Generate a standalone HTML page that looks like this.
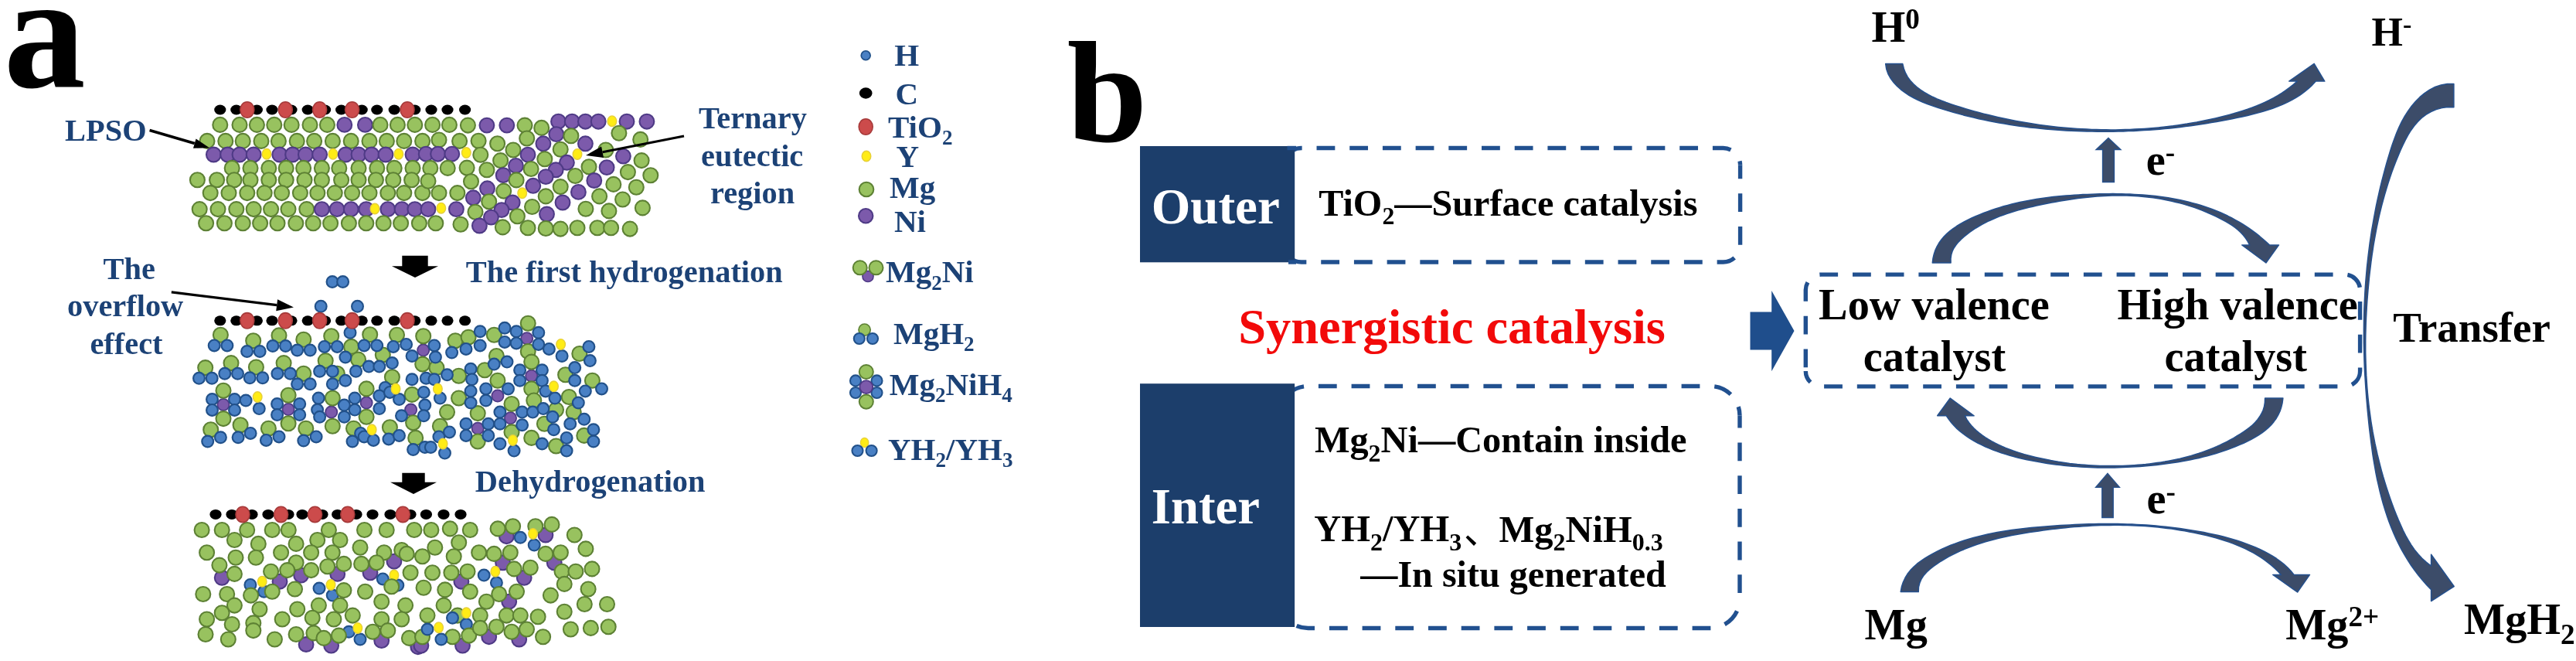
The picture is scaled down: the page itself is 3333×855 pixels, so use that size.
<!DOCTYPE html>
<html><head><meta charset="utf-8"><style>
html,body{margin:0;padding:0;background:#fff;}
svg{display:block;will-change:transform;}
text{font-family:"Liberation Serif", serif;font-weight:bold;}
</style></head><body>
<svg width="3333" height="855" viewBox="0 0 3333 855">
<defs><filter id="sb" x="-2%" y="-5%" width="104%" height="110%"><feGaussianBlur stdDeviation="0.7"/></filter><filter id="tb" x="-2%" y="-2%" width="104%" height="104%"><feGaussianBlur stdDeviation="0.45"/></filter></defs>
<rect width="3333" height="855" fill="#fff"/>
<g filter="url(#sb)">
<circle cx="284.8" cy="161.4" r="9.5" fill="#98c25e" stroke="#5d8134" stroke-width="2.1"/>
<circle cx="310.0" cy="161.4" r="9.5" fill="#98c25e" stroke="#5d8134" stroke-width="2.1"/>
<circle cx="332.4" cy="161.4" r="9.5" fill="#98c25e" stroke="#5d8134" stroke-width="2.1"/>
<circle cx="354.8" cy="161.4" r="9.5" fill="#98c25e" stroke="#5d8134" stroke-width="2.1"/>
<circle cx="377.2" cy="161.4" r="9.5" fill="#98c25e" stroke="#5d8134" stroke-width="2.1"/>
<circle cx="401.0" cy="161.4" r="9.5" fill="#98c25e" stroke="#5d8134" stroke-width="2.1"/>
<circle cx="423.4" cy="161.4" r="9.5" fill="#98c25e" stroke="#5d8134" stroke-width="2.1"/>
<circle cx="445.8" cy="161.4" r="9.4" fill="#7b5aab" stroke="#4f3a86" stroke-width="2.1"/>
<circle cx="472.4" cy="161.4" r="9.4" fill="#7b5aab" stroke="#4f3a86" stroke-width="2.1"/>
<circle cx="492.0" cy="161.4" r="9.5" fill="#98c25e" stroke="#5d8134" stroke-width="2.1"/>
<circle cx="514.4" cy="161.4" r="9.5" fill="#98c25e" stroke="#5d8134" stroke-width="2.1"/>
<circle cx="536.8" cy="161.4" r="9.5" fill="#98c25e" stroke="#5d8134" stroke-width="2.1"/>
<circle cx="268.0" cy="182.4" r="9.5" fill="#98c25e" stroke="#5d8134" stroke-width="2.1"/>
<circle cx="291.8" cy="182.4" r="9.5" fill="#98c25e" stroke="#5d8134" stroke-width="2.1"/>
<circle cx="314.2" cy="182.4" r="9.5" fill="#98c25e" stroke="#5d8134" stroke-width="2.1"/>
<circle cx="338.0" cy="182.4" r="9.5" fill="#98c25e" stroke="#5d8134" stroke-width="2.1"/>
<circle cx="360.4" cy="182.4" r="9.5" fill="#98c25e" stroke="#5d8134" stroke-width="2.1"/>
<circle cx="384.2" cy="182.4" r="9.5" fill="#98c25e" stroke="#5d8134" stroke-width="2.1"/>
<circle cx="406.6" cy="182.4" r="9.5" fill="#98c25e" stroke="#5d8134" stroke-width="2.1"/>
<circle cx="430.4" cy="182.4" r="9.5" fill="#98c25e" stroke="#5d8134" stroke-width="2.1"/>
<circle cx="454.2" cy="182.4" r="9.5" fill="#98c25e" stroke="#5d8134" stroke-width="2.1"/>
<circle cx="478.0" cy="182.4" r="9.5" fill="#98c25e" stroke="#5d8134" stroke-width="2.1"/>
<circle cx="500.4" cy="182.4" r="9.5" fill="#98c25e" stroke="#5d8134" stroke-width="2.1"/>
<circle cx="522.8" cy="182.4" r="9.5" fill="#98c25e" stroke="#5d8134" stroke-width="2.1"/>
<circle cx="546.6" cy="182.4" r="9.5" fill="#98c25e" stroke="#5d8134" stroke-width="2.1"/>
<circle cx="276.4" cy="200.0" r="9.4" fill="#7b5aab" stroke="#4f3a86" stroke-width="2.1"/>
<circle cx="294.6" cy="200.0" r="9.4" fill="#7b5aab" stroke="#4f3a86" stroke-width="2.1"/>
<circle cx="310.0" cy="200.0" r="9.4" fill="#7b5aab" stroke="#4f3a86" stroke-width="2.1"/>
<circle cx="328.2" cy="200.0" r="9.4" fill="#7b5aab" stroke="#4f3a86" stroke-width="2.1"/>
<ellipse cx="345.0" cy="199.2" rx="5.8" ry="6.8" fill="#ffec14" stroke="#e6cf3a" stroke-width="1.4"/>
<circle cx="361.8" cy="200.0" r="9.4" fill="#7b5aab" stroke="#4f3a86" stroke-width="2.1"/>
<circle cx="378.6" cy="200.0" r="9.4" fill="#7b5aab" stroke="#4f3a86" stroke-width="2.1"/>
<circle cx="395.4" cy="200.0" r="9.4" fill="#7b5aab" stroke="#4f3a86" stroke-width="2.1"/>
<circle cx="413.6" cy="200.0" r="9.4" fill="#7b5aab" stroke="#4f3a86" stroke-width="2.1"/>
<ellipse cx="430.9" cy="199.2" rx="5.8" ry="6.8" fill="#ffec14" stroke="#e6cf3a" stroke-width="1.4"/>
<circle cx="447.2" cy="200.0" r="9.4" fill="#7b5aab" stroke="#4f3a86" stroke-width="2.1"/>
<circle cx="464.0" cy="200.0" r="9.4" fill="#7b5aab" stroke="#4f3a86" stroke-width="2.1"/>
<circle cx="480.8" cy="200.0" r="9.4" fill="#7b5aab" stroke="#4f3a86" stroke-width="2.1"/>
<circle cx="499.0" cy="200.0" r="9.4" fill="#7b5aab" stroke="#4f3a86" stroke-width="2.1"/>
<ellipse cx="515.8" cy="199.2" rx="5.8" ry="6.8" fill="#ffec14" stroke="#e6cf3a" stroke-width="1.4"/>
<circle cx="534.0" cy="200.0" r="9.4" fill="#7b5aab" stroke="#4f3a86" stroke-width="2.1"/>
<circle cx="300.2" cy="217.4" r="9.5" fill="#98c25e" stroke="#5d8134" stroke-width="2.1"/>
<circle cx="324.0" cy="217.4" r="9.5" fill="#98c25e" stroke="#5d8134" stroke-width="2.1"/>
<circle cx="347.8" cy="217.4" r="9.5" fill="#98c25e" stroke="#5d8134" stroke-width="2.1"/>
<circle cx="370.2" cy="217.4" r="9.5" fill="#98c25e" stroke="#5d8134" stroke-width="2.1"/>
<circle cx="392.6" cy="217.4" r="9.5" fill="#98c25e" stroke="#5d8134" stroke-width="2.1"/>
<circle cx="416.4" cy="217.4" r="9.5" fill="#98c25e" stroke="#5d8134" stroke-width="2.1"/>
<circle cx="438.8" cy="217.4" r="9.5" fill="#98c25e" stroke="#5d8134" stroke-width="2.1"/>
<circle cx="464.0" cy="217.4" r="9.5" fill="#98c25e" stroke="#5d8134" stroke-width="2.1"/>
<circle cx="487.8" cy="217.4" r="9.5" fill="#98c25e" stroke="#5d8134" stroke-width="2.1"/>
<circle cx="510.2" cy="217.4" r="9.5" fill="#98c25e" stroke="#5d8134" stroke-width="2.1"/>
<circle cx="534.0" cy="217.4" r="9.5" fill="#98c25e" stroke="#5d8134" stroke-width="2.1"/>
<circle cx="255.4" cy="232.8" r="9.5" fill="#98c25e" stroke="#5d8134" stroke-width="2.1"/>
<circle cx="280.6" cy="232.8" r="9.5" fill="#98c25e" stroke="#5d8134" stroke-width="2.1"/>
<circle cx="303.0" cy="232.8" r="9.5" fill="#98c25e" stroke="#5d8134" stroke-width="2.1"/>
<circle cx="324.0" cy="232.8" r="9.5" fill="#98c25e" stroke="#5d8134" stroke-width="2.1"/>
<circle cx="347.8" cy="232.8" r="9.5" fill="#98c25e" stroke="#5d8134" stroke-width="2.1"/>
<circle cx="370.2" cy="232.8" r="9.5" fill="#98c25e" stroke="#5d8134" stroke-width="2.1"/>
<circle cx="394.0" cy="232.8" r="9.5" fill="#98c25e" stroke="#5d8134" stroke-width="2.1"/>
<circle cx="416.4" cy="232.8" r="9.5" fill="#98c25e" stroke="#5d8134" stroke-width="2.1"/>
<circle cx="441.6" cy="232.8" r="9.5" fill="#98c25e" stroke="#5d8134" stroke-width="2.1"/>
<circle cx="464.0" cy="232.8" r="9.5" fill="#98c25e" stroke="#5d8134" stroke-width="2.1"/>
<circle cx="486.4" cy="232.8" r="9.5" fill="#98c25e" stroke="#5d8134" stroke-width="2.1"/>
<circle cx="508.8" cy="232.8" r="9.5" fill="#98c25e" stroke="#5d8134" stroke-width="2.1"/>
<circle cx="532.6" cy="232.8" r="9.5" fill="#98c25e" stroke="#5d8134" stroke-width="2.1"/>
<circle cx="272.2" cy="249.6" r="9.5" fill="#98c25e" stroke="#5d8134" stroke-width="2.1"/>
<circle cx="296.0" cy="249.6" r="9.5" fill="#98c25e" stroke="#5d8134" stroke-width="2.1"/>
<circle cx="319.8" cy="249.6" r="9.5" fill="#98c25e" stroke="#5d8134" stroke-width="2.1"/>
<circle cx="342.2" cy="249.6" r="9.5" fill="#98c25e" stroke="#5d8134" stroke-width="2.1"/>
<circle cx="364.6" cy="249.6" r="9.5" fill="#98c25e" stroke="#5d8134" stroke-width="2.1"/>
<circle cx="388.4" cy="249.6" r="9.5" fill="#98c25e" stroke="#5d8134" stroke-width="2.1"/>
<circle cx="410.8" cy="249.6" r="9.5" fill="#98c25e" stroke="#5d8134" stroke-width="2.1"/>
<circle cx="433.2" cy="249.6" r="9.5" fill="#98c25e" stroke="#5d8134" stroke-width="2.1"/>
<circle cx="455.6" cy="249.6" r="9.5" fill="#98c25e" stroke="#5d8134" stroke-width="2.1"/>
<circle cx="478.0" cy="249.6" r="9.5" fill="#98c25e" stroke="#5d8134" stroke-width="2.1"/>
<circle cx="501.8" cy="249.6" r="9.5" fill="#98c25e" stroke="#5d8134" stroke-width="2.1"/>
<circle cx="522.8" cy="249.6" r="9.5" fill="#98c25e" stroke="#5d8134" stroke-width="2.1"/>
<circle cx="546.6" cy="249.6" r="9.5" fill="#98c25e" stroke="#5d8134" stroke-width="2.1"/>
<circle cx="258.2" cy="270.6" r="9.5" fill="#98c25e" stroke="#5d8134" stroke-width="2.1"/>
<circle cx="282.0" cy="270.6" r="9.5" fill="#98c25e" stroke="#5d8134" stroke-width="2.1"/>
<circle cx="305.8" cy="270.6" r="9.5" fill="#98c25e" stroke="#5d8134" stroke-width="2.1"/>
<circle cx="328.2" cy="270.6" r="9.5" fill="#98c25e" stroke="#5d8134" stroke-width="2.1"/>
<circle cx="350.6" cy="270.6" r="9.5" fill="#98c25e" stroke="#5d8134" stroke-width="2.1"/>
<circle cx="373.0" cy="270.6" r="9.5" fill="#98c25e" stroke="#5d8134" stroke-width="2.1"/>
<circle cx="396.8" cy="270.6" r="9.5" fill="#98c25e" stroke="#5d8134" stroke-width="2.1"/>
<circle cx="416.4" cy="270.6" r="9.4" fill="#7b5aab" stroke="#4f3a86" stroke-width="2.1"/>
<circle cx="436.0" cy="270.6" r="9.4" fill="#7b5aab" stroke="#4f3a86" stroke-width="2.1"/>
<circle cx="454.2" cy="270.6" r="9.4" fill="#7b5aab" stroke="#4f3a86" stroke-width="2.1"/>
<circle cx="473.8" cy="270.6" r="9.4" fill="#7b5aab" stroke="#4f3a86" stroke-width="2.1"/>
<ellipse cx="485.0" cy="270.0" rx="5.8" ry="6.8" fill="#ffec14" stroke="#e6cf3a" stroke-width="1.4"/>
<circle cx="501.8" cy="270.6" r="9.4" fill="#7b5aab" stroke="#4f3a86" stroke-width="2.1"/>
<circle cx="520.0" cy="270.6" r="9.4" fill="#7b5aab" stroke="#4f3a86" stroke-width="2.1"/>
<circle cx="536.8" cy="270.6" r="9.4" fill="#7b5aab" stroke="#4f3a86" stroke-width="2.1"/>
<circle cx="266.6" cy="288.8" r="9.5" fill="#98c25e" stroke="#5d8134" stroke-width="2.1"/>
<circle cx="290.4" cy="288.8" r="9.5" fill="#98c25e" stroke="#5d8134" stroke-width="2.1"/>
<circle cx="314.2" cy="288.8" r="9.5" fill="#98c25e" stroke="#5d8134" stroke-width="2.1"/>
<circle cx="336.6" cy="288.8" r="9.5" fill="#98c25e" stroke="#5d8134" stroke-width="2.1"/>
<circle cx="359.0" cy="288.8" r="9.5" fill="#98c25e" stroke="#5d8134" stroke-width="2.1"/>
<circle cx="382.8" cy="288.8" r="9.5" fill="#98c25e" stroke="#5d8134" stroke-width="2.1"/>
<circle cx="405.2" cy="288.8" r="9.5" fill="#98c25e" stroke="#5d8134" stroke-width="2.1"/>
<circle cx="427.6" cy="288.8" r="9.5" fill="#98c25e" stroke="#5d8134" stroke-width="2.1"/>
<circle cx="451.4" cy="288.8" r="9.5" fill="#98c25e" stroke="#5d8134" stroke-width="2.1"/>
<circle cx="473.8" cy="288.8" r="9.5" fill="#98c25e" stroke="#5d8134" stroke-width="2.1"/>
<circle cx="496.2" cy="288.8" r="9.5" fill="#98c25e" stroke="#5d8134" stroke-width="2.1"/>
<circle cx="518.6" cy="288.8" r="9.5" fill="#98c25e" stroke="#5d8134" stroke-width="2.1"/>
<circle cx="542.4" cy="288.8" r="9.5" fill="#98c25e" stroke="#5d8134" stroke-width="2.1"/>
<circle cx="559.6" cy="161.4" r="9.5" fill="#98c25e" stroke="#5d8134" stroke-width="2.1"/>
<circle cx="581.4" cy="161.4" r="9.5" fill="#98c25e" stroke="#5d8134" stroke-width="2.1"/>
<circle cx="568.0" cy="181.0" r="9.5" fill="#98c25e" stroke="#5d8134" stroke-width="2.1"/>
<circle cx="594.6" cy="182.4" r="9.5" fill="#98c25e" stroke="#5d8134" stroke-width="2.1"/>
<circle cx="551.2" cy="199.2" r="9.4" fill="#7b5aab" stroke="#4f3a86" stroke-width="2.1"/>
<circle cx="566.6" cy="199.2" r="9.4" fill="#7b5aab" stroke="#4f3a86" stroke-width="2.1"/>
<circle cx="584.8" cy="199.2" r="9.4" fill="#7b5aab" stroke="#4f3a86" stroke-width="2.1"/>
<circle cx="556.8" cy="217.4" r="9.5" fill="#98c25e" stroke="#5d8134" stroke-width="2.1"/>
<circle cx="579.2" cy="217.4" r="9.5" fill="#98c25e" stroke="#5d8134" stroke-width="2.1"/>
<circle cx="554.0" cy="234.2" r="9.5" fill="#98c25e" stroke="#5d8134" stroke-width="2.1"/>
<circle cx="568.0" cy="249.6" r="9.5" fill="#98c25e" stroke="#5d8134" stroke-width="2.1"/>
<circle cx="591.8" cy="249.6" r="9.5" fill="#98c25e" stroke="#5d8134" stroke-width="2.1"/>
<circle cx="554.0" cy="270.6" r="9.4" fill="#7b5aab" stroke="#4f3a86" stroke-width="2.1"/>
<ellipse cx="570.8" cy="269.2" rx="5.8" ry="6.8" fill="#ffec14" stroke="#e6cf3a" stroke-width="1.4"/>
<circle cx="590.4" cy="270.6" r="9.4" fill="#7b5aab" stroke="#4f3a86" stroke-width="2.1"/>
<circle cx="563.8" cy="288.8" r="9.5" fill="#98c25e" stroke="#5d8134" stroke-width="2.1"/>
<circle cx="596.0" cy="290.2" r="9.5" fill="#98c25e" stroke="#5d8134" stroke-width="2.1"/>
<circle cx="605.4" cy="162.1" r="9.5" fill="#98c25e" stroke="#5d8134" stroke-width="2.1"/>
<circle cx="629.9" cy="162.1" r="9.4" fill="#7b5aab" stroke="#4f3a86" stroke-width="2.1"/>
<circle cx="655.8" cy="162.1" r="9.4" fill="#7b5aab" stroke="#4f3a86" stroke-width="2.1"/>
<circle cx="679.0" cy="162.1" r="9.5" fill="#98c25e" stroke="#5d8134" stroke-width="2.1"/>
<circle cx="700.7" cy="165.4" r="9.5" fill="#98c25e" stroke="#5d8134" stroke-width="2.1"/>
<circle cx="722.5" cy="157.2" r="9.4" fill="#7b5aab" stroke="#4f3a86" stroke-width="2.1"/>
<circle cx="740.2" cy="157.2" r="9.4" fill="#7b5aab" stroke="#4f3a86" stroke-width="2.1"/>
<circle cx="757.4" cy="157.2" r="9.4" fill="#7b5aab" stroke="#4f3a86" stroke-width="2.1"/>
<circle cx="774.2" cy="157.2" r="9.4" fill="#7b5aab" stroke="#4f3a86" stroke-width="2.1"/>
<ellipse cx="791.9" cy="156.7" rx="5.8" ry="6.8" fill="#ffec14" stroke="#e6cf3a" stroke-width="1.4"/>
<circle cx="811.0" cy="157.2" r="9.4" fill="#7b5aab" stroke="#4f3a86" stroke-width="2.1"/>
<circle cx="836.9" cy="157.2" r="9.4" fill="#7b5aab" stroke="#4f3a86" stroke-width="2.1"/>
<circle cx="719.8" cy="173.6" r="9.4" fill="#7b5aab" stroke="#4f3a86" stroke-width="2.1"/>
<circle cx="738.9" cy="175.7" r="9.5" fill="#98c25e" stroke="#5d8134" stroke-width="2.1"/>
<circle cx="800.9" cy="172.2" r="9.5" fill="#98c25e" stroke="#5d8134" stroke-width="2.1"/>
<circle cx="619.1" cy="182.3" r="9.5" fill="#98c25e" stroke="#5d8134" stroke-width="2.1"/>
<circle cx="643.6" cy="185.8" r="9.5" fill="#98c25e" stroke="#5d8134" stroke-width="2.1"/>
<circle cx="681.7" cy="179.0" r="9.5" fill="#98c25e" stroke="#5d8134" stroke-width="2.1"/>
<circle cx="702.9" cy="185.8" r="9.4" fill="#7b5aab" stroke="#4f3a86" stroke-width="2.1"/>
<circle cx="757.4" cy="185.8" r="9.4" fill="#7b5aab" stroke="#4f3a86" stroke-width="2.1"/>
<circle cx="828.7" cy="180.4" r="9.5" fill="#98c25e" stroke="#5d8134" stroke-width="2.1"/>
<ellipse cx="603.3" cy="197.5" rx="5.8" ry="6.8" fill="#ffec14" stroke="#e6cf3a" stroke-width="1.4"/>
<circle cx="621.8" cy="200.2" r="9.5" fill="#98c25e" stroke="#5d8134" stroke-width="2.1"/>
<circle cx="664.0" cy="194.0" r="9.5" fill="#98c25e" stroke="#5d8134" stroke-width="2.1"/>
<circle cx="683.0" cy="200.2" r="9.4" fill="#7b5aab" stroke="#4f3a86" stroke-width="2.1"/>
<circle cx="725.2" cy="193.2" r="9.5" fill="#98c25e" stroke="#5d8134" stroke-width="2.1"/>
<circle cx="783.8" cy="194.0" r="9.5" fill="#98c25e" stroke="#5d8134" stroke-width="2.1"/>
<circle cx="806.4" cy="202.1" r="9.4" fill="#7b5aab" stroke="#4f3a86" stroke-width="2.1"/>
<circle cx="830.1" cy="207.6" r="9.5" fill="#98c25e" stroke="#5d8134" stroke-width="2.1"/>
<circle cx="647.6" cy="207.6" r="9.5" fill="#98c25e" stroke="#5d8134" stroke-width="2.1"/>
<circle cx="667.5" cy="214.4" r="9.4" fill="#7b5aab" stroke="#4f3a86" stroke-width="2.1"/>
<circle cx="704.8" cy="205.7" r="9.5" fill="#98c25e" stroke="#5d8134" stroke-width="2.1"/>
<circle cx="733.4" cy="210.3" r="9.4" fill="#7b5aab" stroke="#4f3a86" stroke-width="2.1"/>
<circle cx="762.0" cy="215.8" r="9.5" fill="#98c25e" stroke="#5d8134" stroke-width="2.1"/>
<circle cx="785.1" cy="216.6" r="9.4" fill="#7b5aab" stroke="#4f3a86" stroke-width="2.1"/>
<circle cx="604.1" cy="217.1" r="9.5" fill="#98c25e" stroke="#5d8134" stroke-width="2.1"/>
<circle cx="629.9" cy="219.8" r="9.5" fill="#98c25e" stroke="#5d8134" stroke-width="2.1"/>
<circle cx="687.1" cy="218.5" r="9.5" fill="#98c25e" stroke="#5d8134" stroke-width="2.1"/>
<circle cx="719.2" cy="219.8" r="9.4" fill="#7b5aab" stroke="#4f3a86" stroke-width="2.1"/>
<circle cx="812.4" cy="222.6" r="9.5" fill="#98c25e" stroke="#5d8134" stroke-width="2.1"/>
<circle cx="841.8" cy="226.7" r="9.5" fill="#98c25e" stroke="#5d8134" stroke-width="2.1"/>
<circle cx="651.2" cy="226.7" r="9.4" fill="#7b5aab" stroke="#4f3a86" stroke-width="2.1"/>
<circle cx="609.5" cy="234.8" r="9.5" fill="#98c25e" stroke="#5d8134" stroke-width="2.1"/>
<circle cx="668.1" cy="232.9" r="9.5" fill="#98c25e" stroke="#5d8134" stroke-width="2.1"/>
<circle cx="706.2" cy="228.6" r="9.4" fill="#7b5aab" stroke="#4f3a86" stroke-width="2.1"/>
<circle cx="744.3" cy="227.5" r="9.5" fill="#98c25e" stroke="#5d8134" stroke-width="2.1"/>
<circle cx="768.8" cy="233.5" r="9.4" fill="#7b5aab" stroke="#4f3a86" stroke-width="2.1"/>
<circle cx="793.8" cy="238.4" r="9.5" fill="#98c25e" stroke="#5d8134" stroke-width="2.1"/>
<circle cx="823.3" cy="242.2" r="9.5" fill="#98c25e" stroke="#5d8134" stroke-width="2.1"/>
<circle cx="630.5" cy="243.8" r="9.4" fill="#7b5aab" stroke="#4f3a86" stroke-width="2.1"/>
<circle cx="651.7" cy="247.1" r="9.5" fill="#98c25e" stroke="#5d8134" stroke-width="2.1"/>
<circle cx="689.8" cy="240.3" r="9.4" fill="#7b5aab" stroke="#4f3a86" stroke-width="2.1"/>
<circle cx="725.2" cy="241.6" r="9.5" fill="#98c25e" stroke="#5d8134" stroke-width="2.1"/>
<circle cx="748.4" cy="248.4" r="9.4" fill="#7b5aab" stroke="#4f3a86" stroke-width="2.1"/>
<circle cx="775.6" cy="253.9" r="9.5" fill="#98c25e" stroke="#5d8134" stroke-width="2.1"/>
<circle cx="805.6" cy="258.0" r="9.5" fill="#98c25e" stroke="#5d8134" stroke-width="2.1"/>
<circle cx="612.3" cy="255.8" r="9.4" fill="#7b5aab" stroke="#4f3a86" stroke-width="2.1"/>
<circle cx="632.7" cy="260.7" r="9.5" fill="#98c25e" stroke="#5d8134" stroke-width="2.1"/>
<circle cx="663.2" cy="262.0" r="9.4" fill="#7b5aab" stroke="#4f3a86" stroke-width="2.1"/>
<circle cx="706.2" cy="253.9" r="9.5" fill="#98c25e" stroke="#5d8134" stroke-width="2.1"/>
<circle cx="728.0" cy="262.0" r="9.4" fill="#7b5aab" stroke="#4f3a86" stroke-width="2.1"/>
<circle cx="688.5" cy="267.5" r="9.5" fill="#98c25e" stroke="#5d8134" stroke-width="2.1"/>
<circle cx="615.0" cy="274.3" r="9.5" fill="#98c25e" stroke="#5d8134" stroke-width="2.1"/>
<circle cx="649.0" cy="271.6" r="9.4" fill="#7b5aab" stroke="#4f3a86" stroke-width="2.1"/>
<circle cx="669.4" cy="279.7" r="9.5" fill="#98c25e" stroke="#5d8134" stroke-width="2.1"/>
<circle cx="757.9" cy="270.2" r="9.5" fill="#98c25e" stroke="#5d8134" stroke-width="2.1"/>
<circle cx="787.9" cy="272.9" r="9.5" fill="#98c25e" stroke="#5d8134" stroke-width="2.1"/>
<circle cx="831.4" cy="268.9" r="9.5" fill="#98c25e" stroke="#5d8134" stroke-width="2.1"/>
<circle cx="635.4" cy="281.1" r="9.4" fill="#7b5aab" stroke="#4f3a86" stroke-width="2.1"/>
<circle cx="707.5" cy="277.0" r="9.4" fill="#7b5aab" stroke="#4f3a86" stroke-width="2.1"/>
<circle cx="620.4" cy="292.0" r="9.4" fill="#7b5aab" stroke="#4f3a86" stroke-width="2.1"/>
<circle cx="650.4" cy="293.9" r="9.5" fill="#98c25e" stroke="#5d8134" stroke-width="2.1"/>
<circle cx="683.0" cy="294.7" r="9.5" fill="#98c25e" stroke="#5d8134" stroke-width="2.1"/>
<circle cx="706.2" cy="295.5" r="9.5" fill="#98c25e" stroke="#5d8134" stroke-width="2.1"/>
<circle cx="725.2" cy="296.1" r="9.5" fill="#98c25e" stroke="#5d8134" stroke-width="2.1"/>
<circle cx="747.0" cy="294.7" r="9.5" fill="#98c25e" stroke="#5d8134" stroke-width="2.1"/>
<circle cx="772.9" cy="294.7" r="9.5" fill="#98c25e" stroke="#5d8134" stroke-width="2.1"/>
<circle cx="790.6" cy="294.7" r="9.5" fill="#98c25e" stroke="#5d8134" stroke-width="2.1"/>
<circle cx="815.1" cy="296.1" r="9.5" fill="#98c25e" stroke="#5d8134" stroke-width="2.1"/>
<ellipse cx="675.7" cy="249.8" rx="5.8" ry="6.8" fill="#ffec14" stroke="#e6cf3a" stroke-width="1.4"/>
<ellipse cx="747.0" cy="199.4" rx="5.8" ry="6.8" fill="#ffec14" stroke="#e6cf3a" stroke-width="1.4"/>
<ellipse cx="284.8" cy="142.0" rx="7.6" ry="6.5" fill="#040404"/>
<ellipse cx="305.8" cy="142.0" rx="7.6" ry="6.5" fill="#040404"/>
<ellipse cx="332.4" cy="142.0" rx="7.6" ry="6.5" fill="#040404"/>
<ellipse cx="352.0" cy="142.0" rx="7.6" ry="6.5" fill="#040404"/>
<ellipse cx="377.0" cy="142.0" rx="7.6" ry="6.5" fill="#040404"/>
<ellipse cx="398.2" cy="142.0" rx="7.6" ry="6.5" fill="#040404"/>
<ellipse cx="420.6" cy="142.0" rx="7.6" ry="6.5" fill="#040404"/>
<ellipse cx="441.6" cy="142.0" rx="7.6" ry="6.5" fill="#040404"/>
<ellipse cx="468.2" cy="142.0" rx="7.6" ry="6.5" fill="#040404"/>
<ellipse cx="487.8" cy="142.0" rx="7.6" ry="6.5" fill="#040404"/>
<ellipse cx="510.2" cy="142.0" rx="7.6" ry="6.5" fill="#040404"/>
<ellipse cx="536.7" cy="142.0" rx="7.6" ry="6.5" fill="#040404"/>
<ellipse cx="558.0" cy="142.0" rx="7.6" ry="6.5" fill="#040404"/>
<ellipse cx="579.0" cy="142.0" rx="7.6" ry="6.5" fill="#040404"/>
<ellipse cx="601.6" cy="142.0" rx="7.6" ry="6.5" fill="#040404"/>
<ellipse cx="319.8" cy="142.0" rx="9.0" ry="10.2" fill="#cc4b4b" stroke="#a63a3a" stroke-width="1.6"/>
<ellipse cx="369.3" cy="142.0" rx="9.0" ry="10.2" fill="#cc4b4b" stroke="#a63a3a" stroke-width="1.6"/>
<ellipse cx="413.6" cy="142.0" rx="9.0" ry="10.2" fill="#cc4b4b" stroke="#a63a3a" stroke-width="1.6"/>
<ellipse cx="455.6" cy="142.0" rx="9.0" ry="10.2" fill="#cc4b4b" stroke="#a63a3a" stroke-width="1.6"/>
<ellipse cx="527.0" cy="142.0" rx="9.0" ry="10.2" fill="#cc4b4b" stroke="#a63a3a" stroke-width="1.6"/>
<circle cx="289.0" cy="523.4" r="7.6" fill="#7b5aab" stroke="#4f3a86" stroke-width="1.8"/>
<circle cx="373.1" cy="529.5" r="7.6" fill="#7b5aab" stroke="#4f3a86" stroke-width="1.8"/>
<circle cx="547.7" cy="453.0" r="7.6" fill="#7b5aab" stroke="#4f3a86" stroke-width="1.8"/>
<circle cx="428.7" cy="533.1" r="7.6" fill="#7b5aab" stroke="#4f3a86" stroke-width="1.8"/>
<circle cx="474.1" cy="521.0" r="7.6" fill="#7b5aab" stroke="#4f3a86" stroke-width="1.8"/>
<circle cx="531.6" cy="530.1" r="7.6" fill="#7b5aab" stroke="#4f3a86" stroke-width="1.8"/>
<circle cx="681.7" cy="437.8" r="7.6" fill="#7b5aab" stroke="#4f3a86" stroke-width="1.8"/>
<circle cx="687.7" cy="486.2" r="7.6" fill="#7b5aab" stroke="#4f3a86" stroke-width="1.8"/>
<circle cx="643.9" cy="512.0" r="7.6" fill="#7b5aab" stroke="#4f3a86" stroke-width="1.8"/>
<circle cx="660.5" cy="540.7" r="7.6" fill="#7b5aab" stroke="#4f3a86" stroke-width="1.8"/>
<circle cx="618.2" cy="554.3" r="7.6" fill="#7b5aab" stroke="#4f3a86" stroke-width="1.8"/>
<circle cx="285.4" cy="433.3" r="9.5" fill="#98c25e" stroke="#5d8134" stroke-width="2.1"/>
<circle cx="327.7" cy="440.8" r="9.5" fill="#98c25e" stroke="#5d8134" stroke-width="2.1"/>
<circle cx="361.0" cy="433.9" r="9.5" fill="#98c25e" stroke="#5d8134" stroke-width="2.1"/>
<circle cx="392.8" cy="439.3" r="9.5" fill="#98c25e" stroke="#5d8134" stroke-width="2.1"/>
<circle cx="265.7" cy="475.6" r="9.5" fill="#98c25e" stroke="#5d8134" stroke-width="2.1"/>
<circle cx="299.0" cy="469.6" r="9.5" fill="#98c25e" stroke="#5d8134" stroke-width="2.1"/>
<circle cx="331.4" cy="475.0" r="9.5" fill="#98c25e" stroke="#5d8134" stroke-width="2.1"/>
<circle cx="367.1" cy="469.6" r="9.5" fill="#98c25e" stroke="#5d8134" stroke-width="2.1"/>
<circle cx="289.0" cy="505.3" r="9.5" fill="#98c25e" stroke="#5d8134" stroke-width="2.1"/>
<circle cx="289.0" cy="541.6" r="9.5" fill="#98c25e" stroke="#5d8134" stroke-width="2.1"/>
<circle cx="373.1" cy="511.3" r="9.5" fill="#98c25e" stroke="#5d8134" stroke-width="2.1"/>
<circle cx="373.1" cy="547.7" r="9.5" fill="#98c25e" stroke="#5d8134" stroke-width="2.1"/>
<circle cx="272.7" cy="555.8" r="9.5" fill="#98c25e" stroke="#5d8134" stroke-width="2.1"/>
<circle cx="311.1" cy="549.8" r="9.5" fill="#98c25e" stroke="#5d8134" stroke-width="2.1"/>
<circle cx="347.4" cy="554.3" r="9.5" fill="#98c25e" stroke="#5d8134" stroke-width="2.1"/>
<circle cx="395.8" cy="554.3" r="9.5" fill="#98c25e" stroke="#5d8134" stroke-width="2.1"/>
<circle cx="392.8" cy="483.2" r="9.5" fill="#98c25e" stroke="#5d8134" stroke-width="2.1"/>
<circle cx="428.7" cy="434.8" r="9.5" fill="#98c25e" stroke="#5d8134" stroke-width="2.1"/>
<circle cx="478.7" cy="432.7" r="9.5" fill="#98c25e" stroke="#5d8134" stroke-width="2.1"/>
<circle cx="513.5" cy="433.3" r="9.5" fill="#98c25e" stroke="#5d8134" stroke-width="2.1"/>
<circle cx="547.7" cy="434.8" r="9.5" fill="#98c25e" stroke="#5d8134" stroke-width="2.1"/>
<circle cx="589.1" cy="440.8" r="9.5" fill="#98c25e" stroke="#5d8134" stroke-width="2.1"/>
<circle cx="454.5" cy="448.4" r="9.5" fill="#98c25e" stroke="#5d8134" stroke-width="2.1"/>
<circle cx="463.5" cy="465.1" r="9.5" fill="#98c25e" stroke="#5d8134" stroke-width="2.1"/>
<circle cx="495.3" cy="459.0" r="9.5" fill="#98c25e" stroke="#5d8134" stroke-width="2.1"/>
<circle cx="546.7" cy="471.1" r="9.5" fill="#98c25e" stroke="#5d8134" stroke-width="2.1"/>
<circle cx="564.9" cy="475.6" r="9.5" fill="#98c25e" stroke="#5d8134" stroke-width="2.1"/>
<circle cx="421.2" cy="466.6" r="9.5" fill="#98c25e" stroke="#5d8134" stroke-width="2.1"/>
<circle cx="436.3" cy="483.2" r="9.5" fill="#98c25e" stroke="#5d8134" stroke-width="2.1"/>
<circle cx="507.4" cy="487.7" r="9.5" fill="#98c25e" stroke="#5d8134" stroke-width="2.1"/>
<circle cx="593.6" cy="486.2" r="9.5" fill="#98c25e" stroke="#5d8134" stroke-width="2.1"/>
<circle cx="474.1" cy="502.9" r="9.5" fill="#98c25e" stroke="#5d8134" stroke-width="2.1"/>
<circle cx="533.1" cy="510.4" r="9.5" fill="#98c25e" stroke="#5d8134" stroke-width="2.1"/>
<circle cx="430.3" cy="515.0" r="9.5" fill="#98c25e" stroke="#5d8134" stroke-width="2.1"/>
<circle cx="593.6" cy="515.0" r="9.5" fill="#98c25e" stroke="#5d8134" stroke-width="2.1"/>
<circle cx="430.3" cy="551.3" r="9.5" fill="#98c25e" stroke="#5d8134" stroke-width="2.1"/>
<circle cx="474.1" cy="539.2" r="9.5" fill="#98c25e" stroke="#5d8134" stroke-width="2.1"/>
<circle cx="534.6" cy="546.7" r="9.5" fill="#98c25e" stroke="#5d8134" stroke-width="2.1"/>
<circle cx="578.5" cy="533.1" r="9.5" fill="#98c25e" stroke="#5d8134" stroke-width="2.1"/>
<circle cx="569.4" cy="551.3" r="9.5" fill="#98c25e" stroke="#5d8134" stroke-width="2.1"/>
<circle cx="457.5" cy="554.3" r="9.5" fill="#98c25e" stroke="#5d8134" stroke-width="2.1"/>
<circle cx="504.4" cy="552.8" r="9.5" fill="#98c25e" stroke="#5d8134" stroke-width="2.1"/>
<circle cx="537.7" cy="566.4" r="9.5" fill="#98c25e" stroke="#5d8134" stroke-width="2.1"/>
<circle cx="606.1" cy="436.3" r="9.5" fill="#98c25e" stroke="#5d8134" stroke-width="2.1"/>
<circle cx="639.3" cy="433.3" r="9.5" fill="#98c25e" stroke="#5d8134" stroke-width="2.1"/>
<circle cx="683.2" cy="418.2" r="9.5" fill="#98c25e" stroke="#5d8134" stroke-width="2.1"/>
<circle cx="642.4" cy="460.5" r="9.5" fill="#98c25e" stroke="#5d8134" stroke-width="2.1"/>
<circle cx="683.2" cy="454.5" r="9.5" fill="#98c25e" stroke="#5d8134" stroke-width="2.1"/>
<circle cx="687.7" cy="468.1" r="9.5" fill="#98c25e" stroke="#5d8134" stroke-width="2.1"/>
<circle cx="749.8" cy="457.5" r="9.5" fill="#98c25e" stroke="#5d8134" stroke-width="2.1"/>
<circle cx="627.2" cy="478.7" r="9.5" fill="#98c25e" stroke="#5d8134" stroke-width="2.1"/>
<circle cx="731.6" cy="484.7" r="9.5" fill="#98c25e" stroke="#5d8134" stroke-width="2.1"/>
<circle cx="766.4" cy="492.3" r="9.5" fill="#98c25e" stroke="#5d8134" stroke-width="2.1"/>
<circle cx="643.9" cy="492.3" r="9.5" fill="#98c25e" stroke="#5d8134" stroke-width="2.1"/>
<circle cx="687.7" cy="502.9" r="9.5" fill="#98c25e" stroke="#5d8134" stroke-width="2.1"/>
<circle cx="690.8" cy="518.0" r="9.5" fill="#98c25e" stroke="#5d8134" stroke-width="2.1"/>
<circle cx="736.2" cy="513.5" r="9.5" fill="#98c25e" stroke="#5d8134" stroke-width="2.1"/>
<circle cx="662.0" cy="522.5" r="9.5" fill="#98c25e" stroke="#5d8134" stroke-width="2.1"/>
<circle cx="719.5" cy="530.1" r="9.5" fill="#98c25e" stroke="#5d8134" stroke-width="2.1"/>
<circle cx="742.2" cy="533.1" r="9.5" fill="#98c25e" stroke="#5d8134" stroke-width="2.1"/>
<circle cx="618.2" cy="534.6" r="9.5" fill="#98c25e" stroke="#5d8134" stroke-width="2.1"/>
<circle cx="704.4" cy="548.3" r="9.5" fill="#98c25e" stroke="#5d8134" stroke-width="2.1"/>
<circle cx="662.0" cy="558.9" r="9.5" fill="#98c25e" stroke="#5d8134" stroke-width="2.1"/>
<circle cx="618.2" cy="571.0" r="9.5" fill="#98c25e" stroke="#5d8134" stroke-width="2.1"/>
<circle cx="687.7" cy="566.4" r="9.5" fill="#98c25e" stroke="#5d8134" stroke-width="2.1"/>
<circle cx="755.8" cy="563.4" r="9.5" fill="#98c25e" stroke="#5d8134" stroke-width="2.1"/>
<circle cx="719.5" cy="577.0" r="9.5" fill="#98c25e" stroke="#5d8134" stroke-width="2.1"/>
<circle cx="277.2" cy="446.9" r="7.4" fill="#4a80c4" stroke="#21518a" stroke-width="2.2"/>
<circle cx="293.9" cy="446.9" r="7.4" fill="#4a80c4" stroke="#21518a" stroke-width="2.2"/>
<circle cx="319.6" cy="454.5" r="7.4" fill="#4a80c4" stroke="#21518a" stroke-width="2.2"/>
<circle cx="336.2" cy="454.5" r="7.4" fill="#4a80c4" stroke="#21518a" stroke-width="2.2"/>
<circle cx="352.9" cy="447.5" r="7.4" fill="#4a80c4" stroke="#21518a" stroke-width="2.2"/>
<circle cx="369.5" cy="447.5" r="7.4" fill="#4a80c4" stroke="#21518a" stroke-width="2.2"/>
<circle cx="384.6" cy="453.0" r="7.4" fill="#4a80c4" stroke="#21518a" stroke-width="2.2"/>
<circle cx="401.3" cy="453.0" r="7.4" fill="#4a80c4" stroke="#21518a" stroke-width="2.2"/>
<circle cx="257.5" cy="489.3" r="7.4" fill="#4a80c4" stroke="#21518a" stroke-width="2.2"/>
<circle cx="274.2" cy="489.3" r="7.4" fill="#4a80c4" stroke="#21518a" stroke-width="2.2"/>
<circle cx="290.8" cy="483.2" r="7.4" fill="#4a80c4" stroke="#21518a" stroke-width="2.2"/>
<circle cx="307.5" cy="483.2" r="7.4" fill="#4a80c4" stroke="#21518a" stroke-width="2.2"/>
<circle cx="323.2" cy="488.7" r="7.4" fill="#4a80c4" stroke="#21518a" stroke-width="2.2"/>
<circle cx="339.8" cy="488.7" r="7.4" fill="#4a80c4" stroke="#21518a" stroke-width="2.2"/>
<circle cx="358.9" cy="483.2" r="7.4" fill="#4a80c4" stroke="#21518a" stroke-width="2.2"/>
<circle cx="375.6" cy="483.2" r="7.4" fill="#4a80c4" stroke="#21518a" stroke-width="2.2"/>
<circle cx="274.5" cy="516.5" r="7.4" fill="#4a80c4" stroke="#21518a" stroke-width="2.2"/>
<circle cx="274.5" cy="530.4" r="7.4" fill="#4a80c4" stroke="#21518a" stroke-width="2.2"/>
<circle cx="303.5" cy="516.5" r="7.4" fill="#4a80c4" stroke="#21518a" stroke-width="2.2"/>
<circle cx="303.5" cy="530.4" r="7.4" fill="#4a80c4" stroke="#21518a" stroke-width="2.2"/>
<circle cx="358.6" cy="522.5" r="7.4" fill="#4a80c4" stroke="#21518a" stroke-width="2.2"/>
<circle cx="358.6" cy="536.5" r="7.4" fill="#4a80c4" stroke="#21518a" stroke-width="2.2"/>
<circle cx="387.7" cy="522.5" r="7.4" fill="#4a80c4" stroke="#21518a" stroke-width="2.2"/>
<circle cx="387.7" cy="536.5" r="7.4" fill="#4a80c4" stroke="#21518a" stroke-width="2.2"/>
<circle cx="318.1" cy="518.0" r="7.4" fill="#4a80c4" stroke="#21518a" stroke-width="2.2"/>
<circle cx="335.3" cy="528.6" r="7.4" fill="#4a80c4" stroke="#21518a" stroke-width="2.2"/>
<circle cx="268.7" cy="571.0" r="7.4" fill="#4a80c4" stroke="#21518a" stroke-width="2.2"/>
<circle cx="285.4" cy="565.8" r="7.4" fill="#4a80c4" stroke="#21518a" stroke-width="2.2"/>
<circle cx="308.1" cy="565.8" r="7.4" fill="#4a80c4" stroke="#21518a" stroke-width="2.2"/>
<circle cx="324.1" cy="560.4" r="7.4" fill="#4a80c4" stroke="#21518a" stroke-width="2.2"/>
<circle cx="344.4" cy="569.4" r="7.4" fill="#4a80c4" stroke="#21518a" stroke-width="2.2"/>
<circle cx="361.0" cy="564.9" r="7.4" fill="#4a80c4" stroke="#21518a" stroke-width="2.2"/>
<circle cx="392.8" cy="570.0" r="7.4" fill="#4a80c4" stroke="#21518a" stroke-width="2.2"/>
<circle cx="384.6" cy="496.8" r="7.4" fill="#4a80c4" stroke="#21518a" stroke-width="2.2"/>
<circle cx="401.3" cy="496.8" r="7.4" fill="#4a80c4" stroke="#21518a" stroke-width="2.2"/>
<circle cx="453.0" cy="430.3" r="7.4" fill="#4a80c4" stroke="#21518a" stroke-width="2.2"/>
<circle cx="419.7" cy="448.4" r="7.4" fill="#4a80c4" stroke="#21518a" stroke-width="2.2"/>
<circle cx="436.3" cy="448.4" r="7.4" fill="#4a80c4" stroke="#21518a" stroke-width="2.2"/>
<circle cx="471.1" cy="446.9" r="7.4" fill="#4a80c4" stroke="#21518a" stroke-width="2.2"/>
<circle cx="487.7" cy="446.9" r="7.4" fill="#4a80c4" stroke="#21518a" stroke-width="2.2"/>
<circle cx="508.9" cy="448.4" r="7.4" fill="#4a80c4" stroke="#21518a" stroke-width="2.2"/>
<circle cx="525.6" cy="445.4" r="7.4" fill="#4a80c4" stroke="#21518a" stroke-width="2.2"/>
<circle cx="533.1" cy="460.5" r="7.4" fill="#4a80c4" stroke="#21518a" stroke-width="2.2"/>
<circle cx="561.9" cy="446.9" r="7.4" fill="#4a80c4" stroke="#21518a" stroke-width="2.2"/>
<circle cx="563.4" cy="462.0" r="7.4" fill="#4a80c4" stroke="#21518a" stroke-width="2.2"/>
<circle cx="584.6" cy="456.0" r="7.4" fill="#4a80c4" stroke="#21518a" stroke-width="2.2"/>
<circle cx="446.9" cy="462.0" r="7.4" fill="#4a80c4" stroke="#21518a" stroke-width="2.2"/>
<circle cx="477.2" cy="474.1" r="7.4" fill="#4a80c4" stroke="#21518a" stroke-width="2.2"/>
<circle cx="490.8" cy="474.1" r="7.4" fill="#4a80c4" stroke="#21518a" stroke-width="2.2"/>
<circle cx="507.4" cy="469.6" r="7.4" fill="#4a80c4" stroke="#21518a" stroke-width="2.2"/>
<circle cx="413.6" cy="480.2" r="7.4" fill="#4a80c4" stroke="#21518a" stroke-width="2.2"/>
<circle cx="430.3" cy="480.2" r="7.4" fill="#4a80c4" stroke="#21518a" stroke-width="2.2"/>
<circle cx="446.9" cy="492.3" r="7.4" fill="#4a80c4" stroke="#21518a" stroke-width="2.2"/>
<circle cx="430.3" cy="496.8" r="7.4" fill="#4a80c4" stroke="#21518a" stroke-width="2.2"/>
<circle cx="460.5" cy="480.2" r="7.4" fill="#4a80c4" stroke="#21518a" stroke-width="2.2"/>
<circle cx="533.1" cy="490.8" r="7.4" fill="#4a80c4" stroke="#21518a" stroke-width="2.2"/>
<circle cx="551.3" cy="489.3" r="7.4" fill="#4a80c4" stroke="#21518a" stroke-width="2.2"/>
<circle cx="561.9" cy="490.8" r="7.4" fill="#4a80c4" stroke="#21518a" stroke-width="2.2"/>
<circle cx="578.5" cy="484.7" r="7.4" fill="#4a80c4" stroke="#21518a" stroke-width="2.2"/>
<circle cx="498.3" cy="501.4" r="7.4" fill="#4a80c4" stroke="#21518a" stroke-width="2.2"/>
<circle cx="412.1" cy="515.0" r="7.4" fill="#4a80c4" stroke="#21518a" stroke-width="2.2"/>
<circle cx="410.6" cy="530.1" r="7.4" fill="#4a80c4" stroke="#21518a" stroke-width="2.2"/>
<circle cx="445.4" cy="524.1" r="7.4" fill="#4a80c4" stroke="#21518a" stroke-width="2.2"/>
<circle cx="445.4" cy="539.2" r="7.4" fill="#4a80c4" stroke="#21518a" stroke-width="2.2"/>
<circle cx="413.6" cy="539.2" r="7.4" fill="#4a80c4" stroke="#21518a" stroke-width="2.2"/>
<circle cx="459.0" cy="515.0" r="7.4" fill="#4a80c4" stroke="#21518a" stroke-width="2.2"/>
<circle cx="459.0" cy="530.1" r="7.4" fill="#4a80c4" stroke="#21518a" stroke-width="2.2"/>
<circle cx="490.8" cy="512.0" r="7.4" fill="#4a80c4" stroke="#21518a" stroke-width="2.2"/>
<circle cx="490.8" cy="528.6" r="7.4" fill="#4a80c4" stroke="#21518a" stroke-width="2.2"/>
<circle cx="504.4" cy="507.4" r="7.4" fill="#4a80c4" stroke="#21518a" stroke-width="2.2"/>
<circle cx="516.5" cy="516.5" r="7.4" fill="#4a80c4" stroke="#21518a" stroke-width="2.2"/>
<circle cx="548.3" cy="507.4" r="7.4" fill="#4a80c4" stroke="#21518a" stroke-width="2.2"/>
<circle cx="549.8" cy="524.1" r="7.4" fill="#4a80c4" stroke="#21518a" stroke-width="2.2"/>
<circle cx="519.5" cy="537.7" r="7.4" fill="#4a80c4" stroke="#21518a" stroke-width="2.2"/>
<circle cx="548.3" cy="537.7" r="7.4" fill="#4a80c4" stroke="#21518a" stroke-width="2.2"/>
<circle cx="569.4" cy="515.0" r="7.4" fill="#4a80c4" stroke="#21518a" stroke-width="2.2"/>
<circle cx="409.1" cy="564.9" r="7.4" fill="#4a80c4" stroke="#21518a" stroke-width="2.2"/>
<circle cx="456.0" cy="571.0" r="7.4" fill="#4a80c4" stroke="#21518a" stroke-width="2.2"/>
<circle cx="466.6" cy="560.4" r="7.4" fill="#4a80c4" stroke="#21518a" stroke-width="2.2"/>
<circle cx="471.1" cy="564.9" r="7.4" fill="#4a80c4" stroke="#21518a" stroke-width="2.2"/>
<circle cx="483.2" cy="569.4" r="7.4" fill="#4a80c4" stroke="#21518a" stroke-width="2.2"/>
<circle cx="502.9" cy="567.9" r="7.4" fill="#4a80c4" stroke="#21518a" stroke-width="2.2"/>
<circle cx="516.5" cy="563.4" r="7.4" fill="#4a80c4" stroke="#21518a" stroke-width="2.2"/>
<circle cx="534.6" cy="581.5" r="7.4" fill="#4a80c4" stroke="#21518a" stroke-width="2.2"/>
<circle cx="549.8" cy="578.5" r="7.4" fill="#4a80c4" stroke="#21518a" stroke-width="2.2"/>
<circle cx="557.3" cy="578.5" r="7.4" fill="#4a80c4" stroke="#21518a" stroke-width="2.2"/>
<circle cx="567.9" cy="564.9" r="7.4" fill="#4a80c4" stroke="#21518a" stroke-width="2.2"/>
<circle cx="581.5" cy="558.9" r="7.4" fill="#4a80c4" stroke="#21518a" stroke-width="2.2"/>
<circle cx="575.5" cy="586.1" r="7.4" fill="#4a80c4" stroke="#21518a" stroke-width="2.2"/>
<circle cx="621.2" cy="428.7" r="7.4" fill="#4a80c4" stroke="#21518a" stroke-width="2.2"/>
<circle cx="621.2" cy="446.9" r="7.4" fill="#4a80c4" stroke="#21518a" stroke-width="2.2"/>
<circle cx="603.0" cy="451.4" r="7.4" fill="#4a80c4" stroke="#21518a" stroke-width="2.2"/>
<circle cx="653.0" cy="424.2" r="7.4" fill="#4a80c4" stroke="#21518a" stroke-width="2.2"/>
<circle cx="668.1" cy="428.7" r="7.4" fill="#4a80c4" stroke="#21518a" stroke-width="2.2"/>
<circle cx="696.8" cy="430.3" r="7.4" fill="#4a80c4" stroke="#21518a" stroke-width="2.2"/>
<circle cx="653.0" cy="442.4" r="7.4" fill="#4a80c4" stroke="#21518a" stroke-width="2.2"/>
<circle cx="668.1" cy="443.9" r="7.4" fill="#4a80c4" stroke="#21518a" stroke-width="2.2"/>
<circle cx="696.8" cy="445.4" r="7.4" fill="#4a80c4" stroke="#21518a" stroke-width="2.2"/>
<circle cx="710.4" cy="451.4" r="7.4" fill="#4a80c4" stroke="#21518a" stroke-width="2.2"/>
<circle cx="656.0" cy="468.1" r="7.4" fill="#4a80c4" stroke="#21518a" stroke-width="2.2"/>
<circle cx="639.3" cy="471.1" r="7.4" fill="#4a80c4" stroke="#21518a" stroke-width="2.2"/>
<circle cx="727.1" cy="460.5" r="7.4" fill="#4a80c4" stroke="#21518a" stroke-width="2.2"/>
<circle cx="761.9" cy="448.4" r="7.4" fill="#4a80c4" stroke="#21518a" stroke-width="2.2"/>
<circle cx="763.4" cy="466.6" r="7.4" fill="#4a80c4" stroke="#21518a" stroke-width="2.2"/>
<circle cx="609.1" cy="477.2" r="7.4" fill="#4a80c4" stroke="#21518a" stroke-width="2.2"/>
<circle cx="672.6" cy="478.7" r="7.4" fill="#4a80c4" stroke="#21518a" stroke-width="2.2"/>
<circle cx="701.4" cy="478.7" r="7.4" fill="#4a80c4" stroke="#21518a" stroke-width="2.2"/>
<circle cx="743.7" cy="475.6" r="7.4" fill="#4a80c4" stroke="#21518a" stroke-width="2.2"/>
<circle cx="610.6" cy="490.8" r="7.4" fill="#4a80c4" stroke="#21518a" stroke-width="2.2"/>
<circle cx="672.6" cy="492.3" r="7.4" fill="#4a80c4" stroke="#21518a" stroke-width="2.2"/>
<circle cx="701.4" cy="492.3" r="7.4" fill="#4a80c4" stroke="#21518a" stroke-width="2.2"/>
<circle cx="743.7" cy="492.3" r="7.4" fill="#4a80c4" stroke="#21518a" stroke-width="2.2"/>
<circle cx="757.3" cy="505.9" r="7.4" fill="#4a80c4" stroke="#21518a" stroke-width="2.2"/>
<circle cx="778.5" cy="502.9" r="7.4" fill="#4a80c4" stroke="#21518a" stroke-width="2.2"/>
<circle cx="628.7" cy="502.9" r="7.4" fill="#4a80c4" stroke="#21518a" stroke-width="2.2"/>
<circle cx="657.5" cy="502.9" r="7.4" fill="#4a80c4" stroke="#21518a" stroke-width="2.2"/>
<circle cx="609.1" cy="505.9" r="7.4" fill="#4a80c4" stroke="#21518a" stroke-width="2.2"/>
<circle cx="705.9" cy="505.9" r="7.4" fill="#4a80c4" stroke="#21518a" stroke-width="2.2"/>
<circle cx="718.0" cy="515.0" r="7.4" fill="#4a80c4" stroke="#21518a" stroke-width="2.2"/>
<circle cx="628.7" cy="518.0" r="7.4" fill="#4a80c4" stroke="#21518a" stroke-width="2.2"/>
<circle cx="609.1" cy="521.0" r="7.4" fill="#4a80c4" stroke="#21518a" stroke-width="2.2"/>
<circle cx="748.3" cy="521.0" r="7.4" fill="#4a80c4" stroke="#21518a" stroke-width="2.2"/>
<circle cx="646.9" cy="533.1" r="7.4" fill="#4a80c4" stroke="#21518a" stroke-width="2.2"/>
<circle cx="675.6" cy="533.1" r="7.4" fill="#4a80c4" stroke="#21518a" stroke-width="2.2"/>
<circle cx="689.3" cy="533.1" r="7.4" fill="#4a80c4" stroke="#21518a" stroke-width="2.2"/>
<circle cx="702.9" cy="528.6" r="7.4" fill="#4a80c4" stroke="#21518a" stroke-width="2.2"/>
<circle cx="715.0" cy="539.2" r="7.4" fill="#4a80c4" stroke="#21518a" stroke-width="2.2"/>
<circle cx="755.8" cy="542.2" r="7.4" fill="#4a80c4" stroke="#21518a" stroke-width="2.2"/>
<circle cx="737.7" cy="548.3" r="7.4" fill="#4a80c4" stroke="#21518a" stroke-width="2.2"/>
<circle cx="603.0" cy="548.3" r="7.4" fill="#4a80c4" stroke="#21518a" stroke-width="2.2"/>
<circle cx="631.8" cy="548.3" r="7.4" fill="#4a80c4" stroke="#21518a" stroke-width="2.2"/>
<circle cx="646.9" cy="548.3" r="7.4" fill="#4a80c4" stroke="#21518a" stroke-width="2.2"/>
<circle cx="675.6" cy="549.8" r="7.4" fill="#4a80c4" stroke="#21518a" stroke-width="2.2"/>
<circle cx="716.5" cy="555.8" r="7.4" fill="#4a80c4" stroke="#21518a" stroke-width="2.2"/>
<circle cx="767.9" cy="555.8" r="7.4" fill="#4a80c4" stroke="#21518a" stroke-width="2.2"/>
<circle cx="603.0" cy="563.4" r="7.4" fill="#4a80c4" stroke="#21518a" stroke-width="2.2"/>
<circle cx="631.8" cy="563.4" r="7.4" fill="#4a80c4" stroke="#21518a" stroke-width="2.2"/>
<circle cx="701.4" cy="574.0" r="7.4" fill="#4a80c4" stroke="#21518a" stroke-width="2.2"/>
<circle cx="733.1" cy="566.4" r="7.4" fill="#4a80c4" stroke="#21518a" stroke-width="2.2"/>
<circle cx="646.9" cy="574.0" r="7.4" fill="#4a80c4" stroke="#21518a" stroke-width="2.2"/>
<circle cx="665.1" cy="583.1" r="7.4" fill="#4a80c4" stroke="#21518a" stroke-width="2.2"/>
<circle cx="733.1" cy="583.1" r="7.4" fill="#4a80c4" stroke="#21518a" stroke-width="2.2"/>
<circle cx="767.9" cy="571.0" r="7.4" fill="#4a80c4" stroke="#21518a" stroke-width="2.2"/>
<circle cx="430.0" cy="364.5" r="7.4" fill="#4a80c4" stroke="#21518a" stroke-width="2.2"/>
<circle cx="443.6" cy="364.5" r="7.4" fill="#4a80c4" stroke="#21518a" stroke-width="2.2"/>
<circle cx="415.2" cy="396.2" r="7.4" fill="#4a80c4" stroke="#21518a" stroke-width="2.2"/>
<circle cx="462.5" cy="396.2" r="7.4" fill="#4a80c4" stroke="#21518a" stroke-width="2.2"/>
<ellipse cx="333.2" cy="513.5" rx="5.8" ry="6.8" fill="#ffec14" stroke="#e6cf3a" stroke-width="1.4"/>
<ellipse cx="512.0" cy="502.9" rx="5.8" ry="6.8" fill="#ffec14" stroke="#e6cf3a" stroke-width="1.4"/>
<ellipse cx="566.4" cy="502.9" rx="5.8" ry="6.8" fill="#ffec14" stroke="#e6cf3a" stroke-width="1.4"/>
<ellipse cx="481.1" cy="555.8" rx="5.8" ry="6.8" fill="#ffec14" stroke="#e6cf3a" stroke-width="1.4"/>
<ellipse cx="573.1" cy="574.0" rx="5.8" ry="6.8" fill="#ffec14" stroke="#e6cf3a" stroke-width="1.4"/>
<ellipse cx="725.6" cy="445.4" rx="5.8" ry="6.8" fill="#ffec14" stroke="#e6cf3a" stroke-width="1.4"/>
<ellipse cx="716.5" cy="499.8" rx="5.8" ry="6.8" fill="#ffec14" stroke="#e6cf3a" stroke-width="1.4"/>
<ellipse cx="663.5" cy="569.4" rx="5.8" ry="6.8" fill="#ffec14" stroke="#e6cf3a" stroke-width="1.4"/>
<ellipse cx="284.8" cy="414.8" rx="7.6" ry="6.5" fill="#040404"/>
<ellipse cx="305.8" cy="414.8" rx="7.6" ry="6.5" fill="#040404"/>
<ellipse cx="332.4" cy="414.8" rx="7.6" ry="6.5" fill="#040404"/>
<ellipse cx="352.0" cy="414.8" rx="7.6" ry="6.5" fill="#040404"/>
<ellipse cx="377.0" cy="414.8" rx="7.6" ry="6.5" fill="#040404"/>
<ellipse cx="398.2" cy="414.8" rx="7.6" ry="6.5" fill="#040404"/>
<ellipse cx="420.6" cy="414.8" rx="7.6" ry="6.5" fill="#040404"/>
<ellipse cx="441.6" cy="414.8" rx="7.6" ry="6.5" fill="#040404"/>
<ellipse cx="468.2" cy="414.8" rx="7.6" ry="6.5" fill="#040404"/>
<ellipse cx="487.8" cy="414.8" rx="7.6" ry="6.5" fill="#040404"/>
<ellipse cx="510.2" cy="414.8" rx="7.6" ry="6.5" fill="#040404"/>
<ellipse cx="536.7" cy="414.8" rx="7.6" ry="6.5" fill="#040404"/>
<ellipse cx="558.0" cy="414.8" rx="7.6" ry="6.5" fill="#040404"/>
<ellipse cx="579.0" cy="414.8" rx="7.6" ry="6.5" fill="#040404"/>
<ellipse cx="601.6" cy="414.8" rx="7.6" ry="6.5" fill="#040404"/>
<ellipse cx="319.8" cy="414.8" rx="9.0" ry="10.2" fill="#cc4b4b" stroke="#a63a3a" stroke-width="1.6"/>
<ellipse cx="369.3" cy="414.8" rx="9.0" ry="10.2" fill="#cc4b4b" stroke="#a63a3a" stroke-width="1.6"/>
<ellipse cx="413.6" cy="414.8" rx="9.0" ry="10.2" fill="#cc4b4b" stroke="#a63a3a" stroke-width="1.6"/>
<ellipse cx="455.6" cy="414.8" rx="9.0" ry="10.2" fill="#cc4b4b" stroke="#a63a3a" stroke-width="1.6"/>
<ellipse cx="527.0" cy="414.8" rx="9.0" ry="10.2" fill="#cc4b4b" stroke="#a63a3a" stroke-width="1.6"/>
<circle cx="287.2" cy="747.3" r="9.4" fill="#7b5aab" stroke="#4f3a86" stroke-width="2.1"/>
<circle cx="362.0" cy="752.2" r="9.4" fill="#7b5aab" stroke="#4f3a86" stroke-width="2.1"/>
<circle cx="389.6" cy="744.1" r="9.4" fill="#7b5aab" stroke="#4f3a86" stroke-width="2.1"/>
<circle cx="436.7" cy="742.4" r="9.4" fill="#7b5aab" stroke="#4f3a86" stroke-width="2.1"/>
<circle cx="479.0" cy="740.8" r="9.4" fill="#7b5aab" stroke="#4f3a86" stroke-width="2.1"/>
<circle cx="509.9" cy="726.2" r="9.4" fill="#7b5aab" stroke="#4f3a86" stroke-width="2.1"/>
<circle cx="396.1" cy="833.5" r="9.4" fill="#7b5aab" stroke="#4f3a86" stroke-width="2.1"/>
<circle cx="428.6" cy="835.1" r="9.4" fill="#7b5aab" stroke="#4f3a86" stroke-width="2.1"/>
<circle cx="493.7" cy="828.6" r="9.4" fill="#7b5aab" stroke="#4f3a86" stroke-width="2.1"/>
<circle cx="540.8" cy="836.7" r="9.4" fill="#7b5aab" stroke="#4f3a86" stroke-width="2.1"/>
<circle cx="655.4" cy="693.7" r="9.4" fill="#7b5aab" stroke="#4f3a86" stroke-width="2.1"/>
<circle cx="705.9" cy="692.0" r="9.4" fill="#7b5aab" stroke="#4f3a86" stroke-width="2.1"/>
<circle cx="650.6" cy="727.8" r="9.4" fill="#7b5aab" stroke="#4f3a86" stroke-width="2.1"/>
<circle cx="717.2" cy="727.8" r="9.4" fill="#7b5aab" stroke="#4f3a86" stroke-width="2.1"/>
<circle cx="596.9" cy="752.2" r="9.4" fill="#7b5aab" stroke="#4f3a86" stroke-width="2.1"/>
<circle cx="678.2" cy="747.3" r="9.4" fill="#7b5aab" stroke="#4f3a86" stroke-width="2.1"/>
<circle cx="658.7" cy="778.2" r="9.4" fill="#7b5aab" stroke="#4f3a86" stroke-width="2.1"/>
<circle cx="544.9" cy="835.1" r="9.4" fill="#7b5aab" stroke="#4f3a86" stroke-width="2.1"/>
<circle cx="598.5" cy="835.1" r="9.4" fill="#7b5aab" stroke="#4f3a86" stroke-width="2.1"/>
<circle cx="632.7" cy="823.7" r="9.4" fill="#7b5aab" stroke="#4f3a86" stroke-width="2.1"/>
<circle cx="671.7" cy="827.0" r="9.4" fill="#7b5aab" stroke="#4f3a86" stroke-width="2.1"/>
<circle cx="261.1" cy="685.5" r="9.5" fill="#98c25e" stroke="#5d8134" stroke-width="2.1"/>
<circle cx="287.2" cy="685.5" r="9.5" fill="#98c25e" stroke="#5d8134" stroke-width="2.1"/>
<circle cx="319.7" cy="685.5" r="9.5" fill="#98c25e" stroke="#5d8134" stroke-width="2.1"/>
<circle cx="352.2" cy="685.5" r="9.5" fill="#98c25e" stroke="#5d8134" stroke-width="2.1"/>
<circle cx="373.3" cy="685.5" r="9.5" fill="#98c25e" stroke="#5d8134" stroke-width="2.1"/>
<circle cx="425.4" cy="685.5" r="9.5" fill="#98c25e" stroke="#5d8134" stroke-width="2.1"/>
<circle cx="471.5" cy="685.5" r="9.5" fill="#98c25e" stroke="#5d8134" stroke-width="2.1"/>
<circle cx="500.2" cy="685.5" r="9.5" fill="#98c25e" stroke="#5d8134" stroke-width="2.1"/>
<circle cx="535.9" cy="685.5" r="9.5" fill="#98c25e" stroke="#5d8134" stroke-width="2.1"/>
<circle cx="303.4" cy="698.5" r="9.5" fill="#98c25e" stroke="#5d8134" stroke-width="2.1"/>
<circle cx="334.3" cy="703.4" r="9.5" fill="#98c25e" stroke="#5d8134" stroke-width="2.1"/>
<circle cx="383.1" cy="703.4" r="9.5" fill="#98c25e" stroke="#5d8134" stroke-width="2.1"/>
<circle cx="410.7" cy="698.5" r="9.5" fill="#98c25e" stroke="#5d8134" stroke-width="2.1"/>
<circle cx="440.0" cy="698.5" r="9.5" fill="#98c25e" stroke="#5d8134" stroke-width="2.1"/>
<circle cx="466.0" cy="708.3" r="9.5" fill="#98c25e" stroke="#5d8134" stroke-width="2.1"/>
<circle cx="496.9" cy="714.8" r="9.5" fill="#98c25e" stroke="#5d8134" stroke-width="2.1"/>
<circle cx="519.7" cy="711.5" r="9.5" fill="#98c25e" stroke="#5d8134" stroke-width="2.1"/>
<circle cx="267.6" cy="714.8" r="9.5" fill="#98c25e" stroke="#5d8134" stroke-width="2.1"/>
<circle cx="305.0" cy="721.3" r="9.5" fill="#98c25e" stroke="#5d8134" stroke-width="2.1"/>
<circle cx="331.1" cy="721.3" r="9.5" fill="#98c25e" stroke="#5d8134" stroke-width="2.1"/>
<circle cx="363.6" cy="714.8" r="9.5" fill="#98c25e" stroke="#5d8134" stroke-width="2.1"/>
<circle cx="402.6" cy="714.8" r="9.5" fill="#98c25e" stroke="#5d8134" stroke-width="2.1"/>
<circle cx="430.2" cy="714.8" r="9.5" fill="#98c25e" stroke="#5d8134" stroke-width="2.1"/>
<circle cx="526.2" cy="716.4" r="9.5" fill="#98c25e" stroke="#5d8134" stroke-width="2.1"/>
<circle cx="283.9" cy="731.1" r="9.5" fill="#98c25e" stroke="#5d8134" stroke-width="2.1"/>
<circle cx="383.1" cy="727.8" r="9.5" fill="#98c25e" stroke="#5d8134" stroke-width="2.1"/>
<circle cx="402.6" cy="737.6" r="9.5" fill="#98c25e" stroke="#5d8134" stroke-width="2.1"/>
<circle cx="423.7" cy="732.7" r="9.5" fill="#98c25e" stroke="#5d8134" stroke-width="2.1"/>
<circle cx="444.9" cy="729.4" r="9.5" fill="#98c25e" stroke="#5d8134" stroke-width="2.1"/>
<circle cx="467.6" cy="729.4" r="9.5" fill="#98c25e" stroke="#5d8134" stroke-width="2.1"/>
<circle cx="487.2" cy="727.8" r="9.5" fill="#98c25e" stroke="#5d8134" stroke-width="2.1"/>
<circle cx="531.1" cy="740.8" r="9.5" fill="#98c25e" stroke="#5d8134" stroke-width="2.1"/>
<circle cx="303.4" cy="742.4" r="9.5" fill="#98c25e" stroke="#5d8134" stroke-width="2.1"/>
<circle cx="350.6" cy="739.2" r="9.5" fill="#98c25e" stroke="#5d8134" stroke-width="2.1"/>
<circle cx="371.7" cy="737.6" r="9.5" fill="#98c25e" stroke="#5d8134" stroke-width="2.1"/>
<circle cx="323.9" cy="756.4" r="7.4" fill="#4a80c4" stroke="#21518a" stroke-width="2.2"/>
<circle cx="341.5" cy="765.2" r="7.4" fill="#4a80c4" stroke="#21518a" stroke-width="2.2"/>
<circle cx="413.0" cy="761.0" r="7.4" fill="#4a80c4" stroke="#21518a" stroke-width="2.2"/>
<circle cx="430.2" cy="770.1" r="7.4" fill="#4a80c4" stroke="#21518a" stroke-width="2.2"/>
<circle cx="495.3" cy="748.9" r="7.4" fill="#4a80c4" stroke="#21518a" stroke-width="2.2"/>
<circle cx="514.8" cy="757.1" r="7.4" fill="#4a80c4" stroke="#21518a" stroke-width="2.2"/>
<ellipse cx="339.2" cy="752.2" rx="5.8" ry="6.8" fill="#ffec14" stroke="#e6cf3a" stroke-width="1.4"/>
<ellipse cx="428.0" cy="756.4" rx="5.8" ry="6.8" fill="#ffec14" stroke="#e6cf3a" stroke-width="1.4"/>
<ellipse cx="509.9" cy="744.1" rx="5.8" ry="6.8" fill="#ffec14" stroke="#e6cf3a" stroke-width="1.4"/>
<circle cx="262.8" cy="768.5" r="9.5" fill="#98c25e" stroke="#5d8134" stroke-width="2.1"/>
<circle cx="293.7" cy="768.5" r="9.5" fill="#98c25e" stroke="#5d8134" stroke-width="2.1"/>
<circle cx="324.6" cy="770.1" r="9.5" fill="#98c25e" stroke="#5d8134" stroke-width="2.1"/>
<circle cx="352.2" cy="765.2" r="9.5" fill="#98c25e" stroke="#5d8134" stroke-width="2.1"/>
<circle cx="381.5" cy="762.0" r="9.5" fill="#98c25e" stroke="#5d8134" stroke-width="2.1"/>
<circle cx="444.9" cy="763.6" r="9.5" fill="#98c25e" stroke="#5d8134" stroke-width="2.1"/>
<circle cx="472.5" cy="765.2" r="9.5" fill="#98c25e" stroke="#5d8134" stroke-width="2.1"/>
<circle cx="506.7" cy="758.7" r="9.5" fill="#98c25e" stroke="#5d8134" stroke-width="2.1"/>
<circle cx="303.4" cy="783.1" r="9.5" fill="#98c25e" stroke="#5d8134" stroke-width="2.1"/>
<circle cx="335.9" cy="788.0" r="9.5" fill="#98c25e" stroke="#5d8134" stroke-width="2.1"/>
<circle cx="384.7" cy="788.0" r="9.5" fill="#98c25e" stroke="#5d8134" stroke-width="2.1"/>
<circle cx="412.4" cy="783.1" r="9.5" fill="#98c25e" stroke="#5d8134" stroke-width="2.1"/>
<circle cx="440.0" cy="783.1" r="9.5" fill="#98c25e" stroke="#5d8134" stroke-width="2.1"/>
<circle cx="493.7" cy="778.2" r="9.5" fill="#98c25e" stroke="#5d8134" stroke-width="2.1"/>
<circle cx="524.6" cy="783.1" r="9.5" fill="#98c25e" stroke="#5d8134" stroke-width="2.1"/>
<circle cx="287.2" cy="792.8" r="9.5" fill="#98c25e" stroke="#5d8134" stroke-width="2.1"/>
<circle cx="267.6" cy="801.0" r="9.5" fill="#98c25e" stroke="#5d8134" stroke-width="2.1"/>
<circle cx="300.2" cy="807.5" r="9.5" fill="#98c25e" stroke="#5d8134" stroke-width="2.1"/>
<circle cx="327.8" cy="805.9" r="9.5" fill="#98c25e" stroke="#5d8134" stroke-width="2.1"/>
<circle cx="365.2" cy="801.0" r="9.5" fill="#98c25e" stroke="#5d8134" stroke-width="2.1"/>
<circle cx="404.2" cy="799.3" r="9.5" fill="#98c25e" stroke="#5d8134" stroke-width="2.1"/>
<circle cx="431.9" cy="801.0" r="9.5" fill="#98c25e" stroke="#5d8134" stroke-width="2.1"/>
<circle cx="456.3" cy="796.1" r="9.5" fill="#98c25e" stroke="#5d8134" stroke-width="2.1"/>
<circle cx="493.7" cy="801.0" r="9.5" fill="#98c25e" stroke="#5d8134" stroke-width="2.1"/>
<circle cx="519.7" cy="801.0" r="9.5" fill="#98c25e" stroke="#5d8134" stroke-width="2.1"/>
<circle cx="451.4" cy="817.2" r="7.4" fill="#4a80c4" stroke="#21518a" stroke-width="2.2"/>
<circle cx="466.0" cy="827.0" r="7.4" fill="#4a80c4" stroke="#21518a" stroke-width="2.2"/>
<ellipse cx="462.8" cy="812.4" rx="5.8" ry="6.8" fill="#ffec14" stroke="#e6cf3a" stroke-width="1.4"/>
<circle cx="266.0" cy="820.5" r="9.5" fill="#98c25e" stroke="#5d8134" stroke-width="2.1"/>
<circle cx="295.3" cy="827.0" r="9.5" fill="#98c25e" stroke="#5d8134" stroke-width="2.1"/>
<circle cx="327.8" cy="815.6" r="9.5" fill="#98c25e" stroke="#5d8134" stroke-width="2.1"/>
<circle cx="355.4" cy="827.0" r="9.5" fill="#98c25e" stroke="#5d8134" stroke-width="2.1"/>
<circle cx="383.1" cy="820.5" r="9.5" fill="#98c25e" stroke="#5d8134" stroke-width="2.1"/>
<circle cx="405.9" cy="818.9" r="9.5" fill="#98c25e" stroke="#5d8134" stroke-width="2.1"/>
<circle cx="418.9" cy="825.4" r="9.5" fill="#98c25e" stroke="#5d8134" stroke-width="2.1"/>
<circle cx="438.4" cy="822.1" r="9.5" fill="#98c25e" stroke="#5d8134" stroke-width="2.1"/>
<circle cx="482.3" cy="817.2" r="9.5" fill="#98c25e" stroke="#5d8134" stroke-width="2.1"/>
<circle cx="501.8" cy="815.6" r="9.5" fill="#98c25e" stroke="#5d8134" stroke-width="2.1"/>
<circle cx="529.4" cy="825.4" r="9.5" fill="#98c25e" stroke="#5d8134" stroke-width="2.1"/>
<circle cx="557.9" cy="685.5" r="9.5" fill="#98c25e" stroke="#5d8134" stroke-width="2.1"/>
<circle cx="582.3" cy="683.9" r="9.5" fill="#98c25e" stroke="#5d8134" stroke-width="2.1"/>
<circle cx="608.3" cy="685.5" r="9.5" fill="#98c25e" stroke="#5d8134" stroke-width="2.1"/>
<circle cx="644.1" cy="683.9" r="9.5" fill="#98c25e" stroke="#5d8134" stroke-width="2.1"/>
<circle cx="663.6" cy="680.7" r="9.5" fill="#98c25e" stroke="#5d8134" stroke-width="2.1"/>
<circle cx="692.8" cy="680.7" r="9.5" fill="#98c25e" stroke="#5d8134" stroke-width="2.1"/>
<circle cx="714.0" cy="678.4" r="9.5" fill="#98c25e" stroke="#5d8134" stroke-width="2.1"/>
<circle cx="743.3" cy="692.0" r="9.5" fill="#98c25e" stroke="#5d8134" stroke-width="2.1"/>
<circle cx="673.3" cy="695.3" r="7.4" fill="#4a80c4" stroke="#21518a" stroke-width="2.2"/>
<circle cx="691.2" cy="705.0" r="7.4" fill="#4a80c4" stroke="#21518a" stroke-width="2.2"/>
<ellipse cx="689.6" cy="690.4" rx="5.8" ry="6.8" fill="#ffec14" stroke="#e6cf3a" stroke-width="1.4"/>
<circle cx="562.8" cy="708.3" r="9.5" fill="#98c25e" stroke="#5d8134" stroke-width="2.1"/>
<circle cx="593.7" cy="701.8" r="9.5" fill="#98c25e" stroke="#5d8134" stroke-width="2.1"/>
<circle cx="619.7" cy="714.8" r="9.5" fill="#98c25e" stroke="#5d8134" stroke-width="2.1"/>
<circle cx="639.2" cy="716.4" r="9.5" fill="#98c25e" stroke="#5d8134" stroke-width="2.1"/>
<circle cx="660.3" cy="714.8" r="9.5" fill="#98c25e" stroke="#5d8134" stroke-width="2.1"/>
<circle cx="705.9" cy="716.4" r="9.5" fill="#98c25e" stroke="#5d8134" stroke-width="2.1"/>
<circle cx="725.4" cy="714.8" r="9.5" fill="#98c25e" stroke="#5d8134" stroke-width="2.1"/>
<circle cx="757.9" cy="709.9" r="9.5" fill="#98c25e" stroke="#5d8134" stroke-width="2.1"/>
<circle cx="546.5" cy="719.7" r="9.5" fill="#98c25e" stroke="#5d8134" stroke-width="2.1"/>
<circle cx="587.2" cy="719.7" r="9.5" fill="#98c25e" stroke="#5d8134" stroke-width="2.1"/>
<circle cx="559.5" cy="740.8" r="9.5" fill="#98c25e" stroke="#5d8134" stroke-width="2.1"/>
<circle cx="583.9" cy="740.8" r="9.5" fill="#98c25e" stroke="#5d8134" stroke-width="2.1"/>
<circle cx="605.0" cy="739.2" r="9.5" fill="#98c25e" stroke="#5d8134" stroke-width="2.1"/>
<circle cx="665.2" cy="735.9" r="9.5" fill="#98c25e" stroke="#5d8134" stroke-width="2.1"/>
<circle cx="686.3" cy="734.3" r="9.5" fill="#98c25e" stroke="#5d8134" stroke-width="2.1"/>
<circle cx="727.0" cy="739.2" r="9.5" fill="#98c25e" stroke="#5d8134" stroke-width="2.1"/>
<circle cx="744.9" cy="739.2" r="9.5" fill="#98c25e" stroke="#5d8134" stroke-width="2.1"/>
<circle cx="766.0" cy="735.9" r="9.5" fill="#98c25e" stroke="#5d8134" stroke-width="2.1"/>
<circle cx="626.2" cy="744.1" r="7.4" fill="#4a80c4" stroke="#21518a" stroke-width="2.2"/>
<circle cx="642.4" cy="753.8" r="7.4" fill="#4a80c4" stroke="#21518a" stroke-width="2.2"/>
<ellipse cx="640.8" cy="739.2" rx="5.8" ry="6.8" fill="#ffec14" stroke="#e6cf3a" stroke-width="1.4"/>
<circle cx="548.1" cy="760.3" r="9.5" fill="#98c25e" stroke="#5d8134" stroke-width="2.1"/>
<circle cx="575.8" cy="762.9" r="9.5" fill="#98c25e" stroke="#5d8134" stroke-width="2.1"/>
<circle cx="608.3" cy="765.2" r="9.5" fill="#98c25e" stroke="#5d8134" stroke-width="2.1"/>
<circle cx="645.7" cy="768.5" r="9.5" fill="#98c25e" stroke="#5d8134" stroke-width="2.1"/>
<circle cx="668.5" cy="765.2" r="9.5" fill="#98c25e" stroke="#5d8134" stroke-width="2.1"/>
<circle cx="712.4" cy="770.1" r="9.5" fill="#98c25e" stroke="#5d8134" stroke-width="2.1"/>
<circle cx="730.2" cy="755.4" r="9.5" fill="#98c25e" stroke="#5d8134" stroke-width="2.1"/>
<circle cx="761.1" cy="762.0" r="9.5" fill="#98c25e" stroke="#5d8134" stroke-width="2.1"/>
<circle cx="574.1" cy="783.1" r="9.5" fill="#98c25e" stroke="#5d8134" stroke-width="2.1"/>
<circle cx="629.4" cy="778.2" r="9.5" fill="#98c25e" stroke="#5d8134" stroke-width="2.1"/>
<circle cx="730.2" cy="791.2" r="9.5" fill="#98c25e" stroke="#5d8134" stroke-width="2.1"/>
<circle cx="756.3" cy="781.5" r="9.5" fill="#98c25e" stroke="#5d8134" stroke-width="2.1"/>
<circle cx="785.5" cy="781.5" r="9.5" fill="#98c25e" stroke="#5d8134" stroke-width="2.1"/>
<circle cx="553.0" cy="796.1" r="9.5" fill="#98c25e" stroke="#5d8134" stroke-width="2.1"/>
<circle cx="592.0" cy="796.1" r="9.5" fill="#98c25e" stroke="#5d8134" stroke-width="2.1"/>
<circle cx="621.3" cy="796.1" r="9.5" fill="#98c25e" stroke="#5d8134" stroke-width="2.1"/>
<circle cx="655.4" cy="796.1" r="9.5" fill="#98c25e" stroke="#5d8134" stroke-width="2.1"/>
<circle cx="673.3" cy="796.1" r="9.5" fill="#98c25e" stroke="#5d8134" stroke-width="2.1"/>
<circle cx="696.1" cy="797.7" r="9.5" fill="#98c25e" stroke="#5d8134" stroke-width="2.1"/>
<circle cx="585.5" cy="799.3" r="7.4" fill="#4a80c4" stroke="#21518a" stroke-width="2.2"/>
<circle cx="603.4" cy="807.5" r="7.4" fill="#4a80c4" stroke="#21518a" stroke-width="2.2"/>
<ellipse cx="603.4" cy="792.8" rx="5.8" ry="6.8" fill="#ffec14" stroke="#e6cf3a" stroke-width="1.4"/>
<circle cx="546.5" cy="823.7" r="9.5" fill="#98c25e" stroke="#5d8134" stroke-width="2.1"/>
<circle cx="585.5" cy="823.7" r="9.5" fill="#98c25e" stroke="#5d8134" stroke-width="2.1"/>
<circle cx="606.7" cy="822.1" r="9.5" fill="#98c25e" stroke="#5d8134" stroke-width="2.1"/>
<circle cx="621.3" cy="812.4" r="9.5" fill="#98c25e" stroke="#5d8134" stroke-width="2.1"/>
<circle cx="642.4" cy="810.7" r="9.5" fill="#98c25e" stroke="#5d8134" stroke-width="2.1"/>
<circle cx="662.0" cy="817.2" r="9.5" fill="#98c25e" stroke="#5d8134" stroke-width="2.1"/>
<circle cx="681.5" cy="814.0" r="9.5" fill="#98c25e" stroke="#5d8134" stroke-width="2.1"/>
<circle cx="702.6" cy="823.7" r="9.5" fill="#98c25e" stroke="#5d8134" stroke-width="2.1"/>
<circle cx="738.4" cy="814.0" r="9.5" fill="#98c25e" stroke="#5d8134" stroke-width="2.1"/>
<circle cx="764.4" cy="812.4" r="9.5" fill="#98c25e" stroke="#5d8134" stroke-width="2.1"/>
<circle cx="787.2" cy="810.7" r="9.5" fill="#98c25e" stroke="#5d8134" stroke-width="2.1"/>
<circle cx="553.0" cy="814.0" r="7.4" fill="#4a80c4" stroke="#21518a" stroke-width="2.2"/>
<circle cx="570.9" cy="827.0" r="7.4" fill="#4a80c4" stroke="#21518a" stroke-width="2.2"/>
<ellipse cx="567.6" cy="811.7" rx="5.8" ry="6.8" fill="#ffec14" stroke="#e6cf3a" stroke-width="1.4"/>
<ellipse cx="279.0" cy="665.4" rx="7.6" ry="6.5" fill="#040404"/>
<ellipse cx="300.0" cy="665.4" rx="7.6" ry="6.5" fill="#040404"/>
<ellipse cx="326.0" cy="665.4" rx="7.6" ry="6.5" fill="#040404"/>
<ellipse cx="347.0" cy="665.4" rx="7.6" ry="6.5" fill="#040404"/>
<ellipse cx="373.0" cy="665.4" rx="7.6" ry="6.5" fill="#040404"/>
<ellipse cx="391.0" cy="665.4" rx="7.6" ry="6.5" fill="#040404"/>
<ellipse cx="417.0" cy="665.4" rx="7.6" ry="6.5" fill="#040404"/>
<ellipse cx="436.7" cy="665.4" rx="7.6" ry="6.5" fill="#040404"/>
<ellipse cx="461.0" cy="665.4" rx="7.6" ry="6.5" fill="#040404"/>
<ellipse cx="482.0" cy="665.4" rx="7.6" ry="6.5" fill="#040404"/>
<ellipse cx="505.0" cy="665.4" rx="7.6" ry="6.5" fill="#040404"/>
<ellipse cx="531.0" cy="665.4" rx="7.6" ry="6.5" fill="#040404"/>
<ellipse cx="551.4" cy="665.4" rx="7.6" ry="6.5" fill="#040404"/>
<ellipse cx="574.0" cy="665.4" rx="7.6" ry="6.5" fill="#040404"/>
<ellipse cx="596.0" cy="665.4" rx="7.6" ry="6.5" fill="#040404"/>
<ellipse cx="314.0" cy="665.4" rx="9.0" ry="10.2" fill="#cc4b4b" stroke="#a63a3a" stroke-width="1.6"/>
<ellipse cx="363.6" cy="665.4" rx="9.0" ry="10.2" fill="#cc4b4b" stroke="#a63a3a" stroke-width="1.6"/>
<ellipse cx="407.5" cy="665.4" rx="9.0" ry="10.2" fill="#cc4b4b" stroke="#a63a3a" stroke-width="1.6"/>
<ellipse cx="449.8" cy="665.4" rx="9.0" ry="10.2" fill="#cc4b4b" stroke="#a63a3a" stroke-width="1.6"/>
<ellipse cx="521.3" cy="665.4" rx="9.0" ry="10.2" fill="#cc4b4b" stroke="#a63a3a" stroke-width="1.6"/>
</g>
<text x="4.8" y="112.5" font-size="212" fill="#000" >a</text>
<text x="1380.6" y="183.0" font-size="187" fill="#000" >b</text>
<g filter="url(#tb)">
<text x="84.1" y="182.1" font-size="40.4" fill="#1d4276" >LPSO</text>
<text x="904.0" y="165.5" font-size="40.4" fill="#1d4276" >Ternary</text>
<text x="907.0" y="214.5" font-size="40.4" fill="#1d4276" >eutectic</text>
<text x="919.0" y="263.0" font-size="40.4" fill="#1d4276" >region</text>
<text x="133.5" y="360.9" font-size="40.4" fill="#1d4276" >The</text>
<text x="87.0" y="408.5" font-size="40.4" fill="#1d4276" >overflow</text>
<text x="116.4" y="458.4" font-size="40.4" fill="#1d4276" >effect</text>
<text x="602.8" y="364.7" font-size="40.4" fill="#1d4276" >The first hydrogenation</text>
<text x="614.8" y="635.9" font-size="40.4" fill="#1d4276" >Dehydrogenation</text>
<text x="1157.3" y="84.5" font-size="41" fill="#1d4276" >H</text>
<text x="1158.5" y="135.3" font-size="41" fill="#1d4276" >C</text>
<text x="1149.0" y="177.6" font-size="41.0" fill="#1d4276">TiO</text>
<text x="1218.9" y="187.0" font-size="27.1" fill="#1d4276">2</text>
<text x="1159.5" y="215.7" font-size="41" fill="#1d4276" >Y</text>
<text x="1151.0" y="256.0" font-size="41" fill="#1d4276" >Mg</text>
<text x="1157.0" y="300.4" font-size="41" fill="#1d4276" >Ni</text>
<text x="1146.0" y="365.4" font-size="41.0" fill="#1d4276">Mg</text>
<text x="1205.2" y="374.8" font-size="27.1" fill="#1d4276">2</text>
<text x="1218.7" y="365.4" font-size="41.0" fill="#1d4276">Ni</text>
<text x="1156.0" y="444.8" font-size="41.0" fill="#1d4276">MgH</text>
<text x="1247.1" y="454.2" font-size="27.1" fill="#1d4276">2</text>
<text x="1150.7" y="510.6" font-size="41.0" fill="#1d4276">Mg</text>
<text x="1209.9" y="520.0" font-size="27.1" fill="#1d4276">2</text>
<text x="1223.4" y="510.6" font-size="41.0" fill="#1d4276">NiH</text>
<text x="1296.3" y="520.0" font-size="27.1" fill="#1d4276">4</text>
<text x="1149.0" y="594.5" font-size="41.0" fill="#1d4276">YH</text>
<text x="1210.5" y="603.9" font-size="27.1" fill="#1d4276">2</text>
<text x="1224.0" y="594.5" font-size="41.0" fill="#1d4276">/YH</text>
<text x="1296.9" y="603.9" font-size="27.1" fill="#1d4276">3</text>
<line x1="193.6" y1="168.6" x2="251.8" y2="185.6" stroke="#000" stroke-width="3.6"/>
<polygon points="271,191.2 250.0,191.8 253.6,179.4" fill="#000"/>
<line x1="885" y1="176" x2="779.6" y2="196.8" stroke="#000" stroke-width="3.2"/>
<polygon points="758,201 778.1,189.4 781.0,204.1" fill="#000"/>
<line x1="221.8" y1="377.9" x2="358.2" y2="394.7" stroke="#000" stroke-width="3.2"/>
<polygon points="380,397.4 357.2,402.2 359.1,387.3" fill="#000"/>
<polygon points="520.3,330.7 553.7,330.7 553.7,344.2 567.0,344.2 537,359 507.0,344.2 520.3,344.2" fill="#000"/>
<polygon points="520.3,611.7 549.7,611.7 549.7,623.7 565.0,623.7 535,639 505.0,623.7 520.3,623.7" fill="#000"/>
<ellipse cx="1120.2" cy="71.8" rx="5.92" ry="5.92" fill="#4a80c4" stroke="#21518a" stroke-width="1.76"/>
<ellipse cx="1120.2" cy="120.5" rx="8.36" ry="7.15" fill="#040404"/>
<ellipse cx="1120.2" cy="164.0" rx="9.00" ry="10.20" fill="#cc4b4b" stroke="#a63a3a" stroke-width="1.60"/>
<ellipse cx="1121.0" cy="202.0" rx="5.80" ry="6.80" fill="#ffec14" stroke="#e6cf3a" stroke-width="1.40"/>
<ellipse cx="1121.0" cy="245.0" rx="9.31" ry="9.31" fill="#98c25e" stroke="#5d8134" stroke-width="2.06"/>
<ellipse cx="1120.2" cy="279.3" rx="9.21" ry="9.21" fill="#7b5aab" stroke="#4f3a86" stroke-width="2.06"/>
<ellipse cx="1123.0" cy="357.5" rx="7.05" ry="7.05" fill="#7b5aab" stroke="#4f3a86" stroke-width="1.58"/>
<ellipse cx="1112.7" cy="346.3" rx="9.03" ry="9.03" fill="#98c25e" stroke="#5d8134" stroke-width="1.99"/>
<ellipse cx="1133.5" cy="346.3" rx="9.03" ry="9.03" fill="#98c25e" stroke="#5d8134" stroke-width="1.99"/>
<ellipse cx="1118.6" cy="426.6" rx="7.60" ry="7.60" fill="#98c25e" stroke="#5d8134" stroke-width="1.68"/>
<ellipse cx="1111.8" cy="438.0" rx="7.03" ry="7.03" fill="#4a80c4" stroke="#21518a" stroke-width="2.09"/>
<ellipse cx="1129.0" cy="438.0" rx="7.03" ry="7.03" fill="#4a80c4" stroke="#21518a" stroke-width="2.09"/>
<ellipse cx="1107.0" cy="492.4" rx="7.03" ry="7.03" fill="#4a80c4" stroke="#21518a" stroke-width="2.09"/>
<ellipse cx="1107.0" cy="508.0" rx="7.03" ry="7.03" fill="#4a80c4" stroke="#21518a" stroke-width="2.09"/>
<ellipse cx="1134.5" cy="492.4" rx="7.03" ry="7.03" fill="#4a80c4" stroke="#21518a" stroke-width="2.09"/>
<ellipse cx="1134.5" cy="508.0" rx="7.03" ry="7.03" fill="#4a80c4" stroke="#21518a" stroke-width="2.09"/>
<ellipse cx="1120.8" cy="481.0" rx="9.03" ry="9.03" fill="#98c25e" stroke="#5d8134" stroke-width="1.99"/>
<ellipse cx="1120.8" cy="519.6" rx="9.03" ry="9.03" fill="#98c25e" stroke="#5d8134" stroke-width="1.99"/>
<ellipse cx="1120.8" cy="500.6" rx="8.46" ry="8.46" fill="#7b5aab" stroke="#4f3a86" stroke-width="1.89"/>
<ellipse cx="1118.6" cy="572.5" rx="5.22" ry="6.12" fill="#ffec14" stroke="#e6cf3a" stroke-width="1.26"/>
<ellipse cx="1109.5" cy="583.0" rx="7.03" ry="7.03" fill="#4a80c4" stroke="#21518a" stroke-width="2.09"/>
<ellipse cx="1127.6" cy="583.0" rx="7.03" ry="7.03" fill="#4a80c4" stroke="#21518a" stroke-width="2.09"/>
</g>
<path d="M1662,213.5 A22,22 0 0 1 1684,191.5 L2229.6,191.5 A22,22 0 0 1 2251.6,213.5" fill="none" stroke="#21508f" stroke-width="5.4" stroke-dasharray="23.8 18.9" stroke-dashoffset="31.54"/>
<path d="M1662,317.0 A22,22 0 0 0 1684,339.0 L2229.6,339.0 A22,22 0 0 0 2251.6,317.0" fill="none" stroke="#21508f" stroke-width="5.4" stroke-dasharray="23.8 18.9" stroke-dashoffset="25.84"/>
<path d="M2251.6,213.5 L2251.6,317.0" fill="none" stroke="#21508f" stroke-width="5.4" stroke-dasharray="23.8 18.9" stroke-dashoffset="6.00"/>
<path d="M1654.5,537.5 A38,38 0 0 1 1692.5,499.5 L2213,499.5 A38,38 0 0 1 2251,537.5" fill="none" stroke="#21508f" stroke-width="5.4" stroke-dasharray="23.8 18.9" stroke-dashoffset="12.41"/>
<path d="M1654.5,774.5 A38,38 0 0 0 1692.5,812.5 L2213,812.5 A38,38 0 0 0 2251,774.5" fill="none" stroke="#21508f" stroke-width="5.4" stroke-dasharray="23.8 18.9" stroke-dashoffset="41.11"/>
<path d="M2251,537.5 L2251,774.5" fill="none" stroke="#21508f" stroke-width="5.4" stroke-dasharray="23.8 18.9" stroke-dashoffset="7.70"/>
<path d="M2336.3,375.1 A20,20 0 0 1 2356.3,355.1 L3033.6,355.1 A20,20 0 0 1 3053.6,375.1" fill="none" stroke="#21508f" stroke-width="5.4" stroke-dasharray="23.8 18.9" stroke-dashoffset="13.48"/>
<path d="M2336.3,479.9 A20,20 0 0 0 2356.3,499.9 L3033.6,499.9 A20,20 0 0 0 3053.6,479.9" fill="none" stroke="#21508f" stroke-width="5.4" stroke-dasharray="23.8 18.9" stroke-dashoffset="7.68"/>
<path d="M2336.3,375.1 L2336.3,479.9" fill="none" stroke="#21508f" stroke-width="5.4" stroke-dasharray="23.8 18.9" stroke-dashoffset="9.10"/>
<path d="M3053.6,375.1 L3053.6,479.9" fill="none" stroke="#21508f" stroke-width="5.4" stroke-dasharray="23.8 18.9" stroke-dashoffset="27.80"/>
<rect x="1475" y="189" width="200.2" height="150.3" fill="#1c3e6b"/>
<rect x="1475" y="496.2" width="200.1" height="314.8" fill="#1c3e6b"/>
<line x1="1665.5" y1="191.5" x2="1677" y2="191.5" stroke="#21508f" stroke-width="5.4"/>
<line x1="1667" y1="339.0" x2="1677" y2="339.0" stroke="#21508f" stroke-width="5.4"/>
<text x="1489.7" y="289.0" font-size="65" fill="#fff" >Outer</text>
<text x="1489.8" y="677.0" font-size="64.7" fill="#fff" >Inter</text>
<text x="1706.2" y="278.9" font-size="48.2" fill="#000">TiO</text>
<text x="1788.4" y="290.0" font-size="31.8" fill="#000">2</text>
<text x="1804.3" y="278.9" font-size="48.2" fill="#000">—Surface catalysis</text>
<text x="1602.3" y="443.8" font-size="64.4" fill="#f20a0a" >Synergistic catalysis</text>
<text x="1700.9" y="585.4" font-size="48.3" fill="#000">Mg</text>
<text x="1770.6" y="596.5" font-size="31.9" fill="#000">2</text>
<text x="1786.6" y="585.4" font-size="48.3" fill="#000">Ni—Contain inside</text>
<text x="1700.2" y="700.3" font-size="48.5" fill="#000">YH</text>
<text x="1773.0" y="711.5" font-size="32.0" fill="#000">2</text>
<text x="1789.0" y="700.3" font-size="48.5" fill="#000">/YH</text>
<text x="1875.2" y="711.5" font-size="32.0" fill="#000">3</text>
<text x="1939.4" y="700.5" font-size="48.5" fill="#000">Mg</text>
<text x="2009.4" y="711.7" font-size="32.0" fill="#000">2</text>
<text x="2025.4" y="700.5" font-size="48.5" fill="#000">NiH</text>
<text x="2111.7" y="711.7" font-size="32.0" fill="#000">0.3</text>
<polygon points="1896.6,695.2 1899.2,692.6 1910.2,702.6 1907.0,706.0" fill="#000"/>
<text x="1760.3" y="758.9" font-size="48.1" fill="#000" >—In situ generated</text>
<text x="2421.5" y="54.3" font-size="56.3" fill="#000">H</text>
<text x="2465.3" y="37.4" font-size="37.2" fill="#000">0</text>
<text x="3068.5" y="59.0" font-size="52.0" fill="#000">H</text>
<text x="3108.9" y="43.4" font-size="34.3" fill="#000">-</text>
<text x="2776.7" y="226.2" font-size="56.3" fill="#000">e</text>
<text x="2801.7" y="209.3" font-size="37.2" fill="#000">-</text>
<text x="2777.4" y="664.4" font-size="56.3" fill="#000">e</text>
<text x="2802.4" y="647.5" font-size="37.2" fill="#000">-</text>
<text x="2353.1" y="413.4" font-size="56.3" fill="#000" >Low valence</text>
<text x="2410.8" y="480.2" font-size="56.3" fill="#000" >catalyst</text>
<text x="2739.5" y="413.4" font-size="56.3" fill="#000" >High valence</text>
<text x="2800.5" y="480.2" font-size="56.3" fill="#000" >catalyst</text>
<text x="3096.3" y="441.5" font-size="55" fill="#000" >Transfer</text>
<text x="2412.5" y="827.2" font-size="56.3" fill="#000" >Mg</text>
<text x="2957.2" y="827.2" font-size="56.3" fill="#000">Mg</text>
<text x="3038.5" y="810.3" font-size="37.2" fill="#000">2+</text>
<text x="3188.0" y="819.7" font-size="56.3" fill="#000">MgH</text>
<text x="3313.1" y="832.6" font-size="37.2" fill="#000">2</text>
<polygon points="2264.5,403.6 2292.2,403.6 2292.2,375.9 2321.5,428 2292.2,480.2 2292.2,452.5 2264.5,452.5" fill="#1f4e8c"/>
<polygon points="2728,178.5 2744.0,193.5 2735.5,193.5 2735.5,235.5 2720.5,235.5 2720.5,193.5 2712.0,193.5" fill="#3c4c68" stroke="#24508e" stroke-width="1.3"/>
<polygon points="2727,612.3 2742.5,630.4 2734.25,630.4 2734.25,669.5 2719.75,669.5 2719.75,630.4 2711.5,630.4" fill="#3c4c68" stroke="#24508e" stroke-width="1.3"/>
<path d="M2461.8,82.6 L2463.3,88.8 L2465.5,94.4 L2468.3,99.6 L2471.7,104.3 L2475.7,108.6 L2480.1,112.5 L2484.8,116.1 L2489.8,119.4 L2495.1,122.5 L2500.6,125.3 L2506.3,127.9 L2512.2,130.3 L2518.1,132.5 L2524.2,134.6 L2530.3,136.6 L2536.3,138.5 L2542.4,140.4 L2548.4,142.2 L2554.5,143.9 L2560.5,145.5 L2566.5,147.1 L2572.5,148.6 L2578.6,150.1 L2584.6,151.5 L2590.6,152.8 L2596.6,154.1 L2602.6,155.3 L2608.6,156.5 L2614.6,157.6 L2620.6,158.6 L2626.7,159.6 L2632.7,160.5 L2638.8,161.4 L2644.8,162.2 L2650.9,163.0 L2657.0,163.7 L2663.2,164.4 L2669.3,165.0 L2675.4,165.5 L2681.6,166.0 L2687.7,166.4 L2693.9,166.8 L2700.1,167.1 L2706.3,167.4 L2712.5,167.6 L2718.7,167.8 L2724.9,167.8 L2731.1,167.9 L2737.3,167.9 L2743.5,167.8 L2749.7,167.6 L2755.9,167.4 L2762.1,167.1 L2768.3,166.8 L2774.5,166.4 L2780.7,166.0 L2786.9,165.5 L2793.1,164.9 L2799.2,164.2 L2805.4,163.5 L2811.6,162.8 L2817.7,161.9 L2823.8,161.0 L2830.0,160.1 L2836.1,159.0 L2842.2,158.0 L2848.3,156.8 L2854.3,155.6 L2860.4,154.3 L2866.4,152.9 L2872.4,151.5 L2878.4,150.0 L2884.4,148.4 L2890.3,146.8 L2896.3,145.0 L2902.1,143.2 L2908.0,141.3 L2913.8,139.2 L2919.5,137.0 L2925.1,134.6 L2930.7,132.1 L2936.3,129.5 L2941.7,126.6 L2947.0,123.6 L2952.3,120.3 L2957.4,116.9 L2962.5,113.2 L2967.4,109.3 L2972.2,105.1 L2961.7,105.1 L2994.2,82.4 L3007.8,105.1 L2996.4,105.1 L2991.7,110.1 L2986.7,114.7 L2981.5,118.9 L2976.2,122.8 L2970.6,126.4 L2964.9,129.6 L2959.0,132.6 L2953.0,135.4 L2946.8,137.9 L2940.5,140.2 L2934.2,142.3 L2927.7,144.3 L2921.2,146.1 L2914.6,147.8 L2908.0,149.4 L2901.3,150.9 L2894.7,152.3 L2888.0,153.7 L2881.4,155.0 L2874.7,156.3 L2868.0,157.5 L2861.3,158.6 L2854.6,159.7 L2848.0,160.8 L2841.3,161.8 L2834.6,162.7 L2827.8,163.6 L2821.1,164.4 L2814.4,165.2 L2807.7,165.9 L2801.0,166.6 L2794.3,167.2 L2787.5,167.7 L2780.8,168.2 L2774.1,168.6 L2767.4,169.0 L2760.6,169.4 L2753.9,169.6 L2747.2,169.9 L2740.5,170.0 L2733.8,170.2 L2727.0,170.2 L2720.3,170.2 L2713.6,170.2 L2706.9,170.1 L2700.2,170.0 L2693.5,169.8 L2686.8,169.5 L2680.1,169.2 L2673.4,168.9 L2666.7,168.5 L2660.0,168.0 L2653.3,167.5 L2646.6,166.9 L2639.9,166.3 L2633.3,165.6 L2626.6,164.9 L2620.0,164.0 L2613.3,163.2 L2606.6,162.2 L2600.0,161.2 L2593.4,160.1 L2586.7,159.0 L2580.1,157.8 L2573.5,156.5 L2566.8,155.1 L2560.2,153.7 L2553.6,152.1 L2547.0,150.5 L2540.4,148.9 L2533.8,147.1 L2527.2,145.3 L2520.6,143.4 L2514.0,141.4 L2507.4,139.3 L2500.9,137.1 L2494.4,134.7 L2488.0,132.2 L2481.8,129.5 L2475.8,126.5 L2470.0,123.3 L2464.6,119.7 L2459.4,115.8 L2454.6,111.5 L2450.2,106.8 L2446.3,101.6 L2443.1,95.9 L2440.8,89.6 L2439.7,82.6 Z" fill="#3c4c69" stroke="#24508e" stroke-width="1.5" stroke-linejoin="round"/>
<path d="M2500.3,340.0 L2501.0,334.2 L2502.3,328.7 L2504.0,323.6 L2506.2,318.8 L2508.8,314.3 L2511.9,310.0 L2515.2,306.1 L2518.9,302.4 L2522.9,298.9 L2527.2,295.6 L2531.7,292.5 L2536.3,289.7 L2541.2,287.0 L2546.1,284.4 L2551.1,282.0 L2556.2,279.7 L2561.3,277.6 L2566.5,275.5 L2571.6,273.6 L2576.8,271.7 L2582.0,270.0 L2587.2,268.4 L2592.4,266.8 L2597.7,265.4 L2602.9,264.0 L2608.2,262.7 L2613.5,261.5 L2618.9,260.4 L2624.2,259.4 L2629.6,258.4 L2634.9,257.5 L2640.3,256.7 L2645.7,256.0 L2651.2,255.3 L2656.6,254.6 L2662.0,254.1 L2667.5,253.5 L2673.0,253.1 L2678.5,252.7 L2683.9,252.3 L2689.5,251.9 L2695.0,251.6 L2700.5,251.4 L2706.0,251.2 L2711.6,251.0 L2717.1,250.8 L2722.7,250.7 L2728.2,250.7 L2733.8,250.6 L2739.3,250.7 L2744.9,250.8 L2750.4,250.9 L2756.0,251.1 L2761.5,251.4 L2767.0,251.7 L2772.5,252.1 L2778.0,252.5 L2783.5,253.0 L2789.0,253.6 L2794.4,254.3 L2799.9,255.0 L2805.3,255.8 L2810.6,256.7 L2816.0,257.7 L2821.3,258.8 L2826.6,260.0 L2831.9,261.2 L2837.1,262.6 L2842.3,264.0 L2847.5,265.5 L2852.6,267.2 L2857.7,268.9 L2862.7,270.8 L2867.7,272.7 L2872.7,274.8 L2877.6,277.0 L2882.5,279.3 L2887.3,281.7 L2892.0,284.3 L2896.7,286.9 L2901.4,289.7 L2906.0,292.6 L2910.5,295.7 L2915.0,298.9 L2919.4,302.2 L2923.8,305.7 L2928.0,309.3 L2932.3,313.0 L2936.4,316.9 L2948.5,316.9 L2931.9,340.0 L2900.8,316.9 L2910.7,316.9 L2908.3,312.3 L2905.5,308.1 L2902.5,304.2 L2899.2,300.7 L2895.7,297.5 L2892.0,294.5 L2888.1,291.7 L2884.1,289.1 L2879.9,286.7 L2875.6,284.3 L2871.3,282.0 L2866.9,279.8 L2862.4,277.7 L2857.8,275.7 L2853.2,273.7 L2848.5,271.9 L2843.8,270.1 L2839.1,268.4 L2834.3,266.9 L2829.5,265.4 L2824.6,263.9 L2819.8,262.6 L2814.9,261.4 L2810.1,260.2 L2805.2,259.2 L2800.3,258.2 L2795.5,257.3 L2790.6,256.6 L2785.8,255.8 L2780.9,255.2 L2776.1,254.7 L2771.2,254.2 L2766.4,253.8 L2761.6,253.5 L2756.7,253.2 L2751.9,253.1 L2747.0,253.0 L2742.2,252.9 L2737.3,253.0 L2732.5,253.1 L2727.7,253.2 L2722.8,253.4 L2718.0,253.7 L2713.1,254.1 L2708.3,254.5 L2703.4,254.9 L2698.5,255.4 L2693.7,256.0 L2688.8,256.6 L2683.9,257.2 L2679.1,257.9 L2674.2,258.7 L2669.3,259.5 L2664.4,260.3 L2659.5,261.2 L2654.7,262.1 L2649.7,263.0 L2644.8,264.0 L2639.9,265.0 L2635.0,266.1 L2630.1,267.2 L2625.2,268.3 L2620.3,269.5 L2615.5,270.8 L2610.7,272.1 L2605.9,273.5 L2601.1,275.0 L2596.4,276.5 L2591.7,278.2 L2587.1,279.9 L2582.5,281.7 L2578.0,283.7 L2573.5,285.7 L2569.2,287.9 L2564.9,290.1 L2560.6,292.5 L2556.5,295.0 L2552.5,297.7 L2548.5,300.5 L2544.7,303.4 L2540.9,306.5 L2537.3,309.7 L2533.9,313.1 L2530.9,316.8 L2528.2,320.7 L2526.1,325.0 L2524.7,329.6 L2524.0,334.6 L2524.1,340.0 Z" fill="#3c4c69" stroke="#24508e" stroke-width="1.5" stroke-linejoin="round"/>
<path d="M2953.9,515.0 L2953.1,521.0 L2951.8,526.5 L2950.1,531.8 L2947.8,536.6 L2945.2,541.2 L2942.1,545.4 L2938.8,549.4 L2935.0,553.1 L2931.0,556.6 L2926.8,559.8 L2922.3,562.8 L2917.7,565.7 L2912.9,568.3 L2907.9,570.8 L2902.9,573.2 L2897.8,575.4 L2892.7,577.5 L2887.5,579.6 L2882.3,581.5 L2877.1,583.3 L2871.8,585.1 L2866.6,586.7 L2861.2,588.2 L2855.9,589.7 L2850.5,591.1 L2845.2,592.4 L2839.8,593.6 L2834.3,594.7 L2828.9,595.8 L2823.4,596.8 L2818.0,597.7 L2812.5,598.5 L2807.0,599.3 L2801.6,600.1 L2796.1,600.7 L2790.6,601.4 L2785.1,601.9 L2779.6,602.5 L2774.2,602.9 L2768.7,603.4 L2763.2,603.7 L2757.8,604.1 L2752.3,604.3 L2746.8,604.6 L2741.4,604.8 L2735.9,604.9 L2730.5,605.0 L2725.0,605.0 L2719.6,605.0 L2714.2,604.9 L2708.7,604.7 L2703.3,604.5 L2697.8,604.3 L2692.4,604.0 L2686.9,603.6 L2681.5,603.2 L2676.1,602.7 L2670.6,602.2 L2665.2,601.6 L2659.7,600.9 L2654.2,600.2 L2648.8,599.4 L2643.3,598.5 L2637.9,597.6 L2632.4,596.6 L2626.9,595.5 L2621.4,594.4 L2616.0,593.2 L2610.6,591.9 L2605.2,590.5 L2599.8,589.0 L2594.4,587.4 L2589.2,585.7 L2583.9,583.9 L2578.8,582.0 L2573.6,579.9 L2568.6,577.7 L2563.7,575.4 L2558.8,573.0 L2554.0,570.4 L2549.4,567.6 L2544.9,564.6 L2540.5,561.5 L2536.3,558.1 L2532.2,554.6 L2528.4,550.8 L2524.8,546.7 L2521.4,542.4 L2518.3,537.8 L2506.7,537.8 L2523.3,515.0 L2554.1,537.8 L2542.4,537.8 L2544.7,542.3 L2547.5,546.5 L2550.5,550.3 L2553.8,553.8 L2557.3,557.1 L2561.0,560.1 L2564.9,563.1 L2568.9,565.8 L2573.0,568.4 L2577.3,570.9 L2581.6,573.2 L2586.1,575.4 L2590.6,577.5 L2595.2,579.4 L2599.9,581.2 L2604.7,583.0 L2609.5,584.6 L2614.3,586.1 L2619.2,587.6 L2624.1,588.9 L2629.0,590.2 L2633.9,591.4 L2638.8,592.5 L2643.7,593.6 L2648.6,594.6 L2653.5,595.6 L2658.4,596.4 L2663.2,597.3 L2668.1,598.0 L2673.0,598.7 L2677.9,599.4 L2682.7,599.9 L2687.6,600.5 L2692.5,600.9 L2697.3,601.3 L2702.2,601.7 L2707.1,602.0 L2712.0,602.2 L2716.9,602.4 L2721.8,602.5 L2726.7,602.6 L2731.6,602.6 L2736.5,602.6 L2741.5,602.5 L2746.4,602.4 L2751.4,602.2 L2756.3,602.0 L2761.3,601.7 L2766.3,601.3 L2771.2,600.9 L2776.2,600.5 L2781.2,599.9 L2786.1,599.3 L2791.1,598.6 L2796.0,597.9 L2801.0,597.1 L2805.9,596.2 L2810.8,595.3 L2815.7,594.3 L2820.6,593.2 L2825.4,592.0 L2830.3,590.7 L2835.1,589.4 L2839.8,588.0 L2844.6,586.5 L2849.3,584.9 L2854.0,583.2 L2858.6,581.5 L2863.2,579.6 L2867.8,577.7 L2872.3,575.7 L2876.8,573.5 L2881.2,571.3 L2885.6,569.0 L2890.0,566.6 L2894.2,564.0 L2898.5,561.4 L2902.7,558.7 L2906.7,555.8 L2910.7,552.8 L2914.4,549.7 L2917.9,546.3 L2921.0,542.7 L2923.8,538.8 L2926.2,534.7 L2928.2,530.3 L2929.6,525.6 L2930.4,520.5 L2930.6,515.0 Z" fill="#3c4c69" stroke="#24508e" stroke-width="1.5" stroke-linejoin="round"/>
<path d="M2459.2,765.6 L2460.4,759.1 L2462.4,753.0 L2465.0,747.5 L2468.1,742.3 L2471.8,737.6 L2476.0,733.3 L2480.5,729.2 L2485.4,725.5 L2490.5,722.1 L2495.9,718.8 L2501.3,715.8 L2506.9,712.9 L2512.5,710.2 L2518.2,707.7 L2523.9,705.3 L2529.7,703.1 L2535.6,701.0 L2541.5,699.0 L2547.4,697.2 L2553.4,695.5 L2559.5,693.9 L2565.6,692.4 L2571.7,691.0 L2577.9,689.8 L2584.1,688.6 L2590.3,687.5 L2596.5,686.5 L2602.8,685.6 L2609.0,684.7 L2615.3,684.0 L2621.6,683.2 L2627.9,682.6 L2634.2,682.0 L2640.5,681.4 L2646.8,680.9 L2653.0,680.4 L2659.3,680.0 L2665.6,679.6 L2671.8,679.2 L2678.1,678.9 L2684.3,678.5 L2690.5,678.3 L2696.7,678.0 L2702.9,677.8 L2709.1,677.7 L2715.3,677.6 L2721.5,677.5 L2727.7,677.5 L2733.9,677.5 L2740.1,677.6 L2746.3,677.7 L2752.4,677.9 L2758.6,678.1 L2764.8,678.4 L2771.0,678.7 L2777.1,679.1 L2783.3,679.6 L2789.5,680.1 L2795.7,680.7 L2801.9,681.3 L2808.1,682.0 L2814.3,682.7 L2820.5,683.5 L2826.7,684.4 L2832.9,685.4 L2839.1,686.4 L2845.4,687.5 L2851.6,688.6 L2857.8,689.9 L2864.1,691.2 L2870.3,692.6 L2876.4,694.1 L2882.6,695.7 L2888.7,697.5 L2894.7,699.3 L2900.7,701.3 L2906.6,703.4 L2912.5,705.6 L2918.3,708.0 L2923.9,710.5 L2929.5,713.2 L2935.0,716.1 L2940.3,719.2 L2945.5,722.5 L2950.4,726.0 L2955.2,729.9 L2959.8,734.0 L2964.1,738.5 L2968.1,743.4 L2988.5,743.4 L2972.6,766.0 L2940.8,743.4 L2951.4,743.4 L2947.5,739.2 L2943.3,735.2 L2939.1,731.4 L2934.6,727.8 L2930.1,724.4 L2925.4,721.2 L2920.5,718.1 L2915.6,715.2 L2910.5,712.5 L2905.3,709.9 L2900.1,707.5 L2894.7,705.3 L2889.3,703.1 L2883.8,701.1 L2878.2,699.2 L2872.6,697.5 L2867.0,695.8 L2861.3,694.3 L2855.6,692.8 L2849.9,691.5 L2844.1,690.2 L2838.4,689.0 L2832.7,687.9 L2826.9,686.8 L2821.2,685.9 L2815.5,685.0 L2809.8,684.1 L2804.0,683.4 L2798.3,682.7 L2792.6,682.1 L2786.9,681.5 L2781.2,681.0 L2775.5,680.6 L2769.8,680.2 L2764.0,679.9 L2758.3,679.7 L2752.6,679.5 L2746.9,679.4 L2741.2,679.3 L2735.5,679.3 L2729.8,679.4 L2724.0,679.5 L2718.3,679.6 L2712.6,679.8 L2706.9,680.1 L2701.1,680.4 L2695.4,680.8 L2689.7,681.2 L2683.9,681.6 L2678.2,682.1 L2672.4,682.7 L2666.7,683.3 L2660.9,683.9 L2655.2,684.6 L2649.4,685.3 L2643.6,686.1 L2637.8,686.9 L2632.0,687.7 L2626.2,688.6 L2620.4,689.5 L2614.6,690.5 L2608.9,691.5 L2603.1,692.6 L2597.4,693.8 L2591.6,695.0 L2585.9,696.3 L2580.3,697.7 L2574.6,699.2 L2569.0,700.8 L2563.5,702.5 L2558.0,704.3 L2552.5,706.2 L2547.1,708.2 L2541.8,710.4 L2536.5,712.6 L2531.3,715.0 L2526.2,717.6 L2521.2,720.2 L2516.2,723.1 L2511.3,726.0 L2506.6,729.2 L2501.9,732.5 L2497.4,736.0 L2493.2,739.8 L2489.4,743.9 L2486.3,748.5 L2484.0,753.6 L2482.5,759.2 L2482.2,765.6 Z" fill="#3c4c69" stroke="#24508e" stroke-width="1.5" stroke-linejoin="round"/>
<path d="M3174.9,108.5 L3166.4,108.5 L3158.3,109.9 L3150.7,112.5 L3143.6,116.1 L3137.0,120.6 L3130.9,125.7 L3125.4,131.3 L3120.3,137.2 L3115.7,143.6 L3111.5,150.2 L3107.6,157.2 L3104.1,164.4 L3100.9,171.8 L3098.0,179.4 L3095.2,187.2 L3092.7,195.0 L3090.3,202.9 L3088.0,210.8 L3085.8,218.7 L3083.7,226.7 L3081.6,234.6 L3079.7,242.5 L3077.9,250.5 L3076.1,258.4 L3074.4,266.4 L3072.9,274.3 L3071.4,282.3 L3070.0,290.3 L3068.6,298.2 L3067.4,306.2 L3066.2,314.2 L3065.2,322.2 L3064.2,330.2 L3063.3,338.2 L3062.4,346.2 L3061.7,354.2 L3061.0,362.2 L3060.4,370.2 L3059.9,378.3 L3059.5,386.3 L3059.1,394.3 L3058.8,402.4 L3058.6,410.4 L3058.5,418.4 L3058.4,426.5 L3058.4,434.5 L3058.4,442.6 L3058.6,450.7 L3058.8,458.7 L3059.0,466.8 L3059.3,474.9 L3059.7,482.9 L3060.2,491.0 L3060.7,499.1 L3061.3,507.2 L3061.9,515.3 L3062.6,523.4 L3063.3,531.5 L3064.1,539.6 L3064.9,547.7 L3065.8,555.8 L3066.8,564.0 L3067.8,572.1 L3068.9,580.2 L3070.0,588.3 L3071.3,596.3 L3072.7,604.4 L3074.1,612.4 L3075.7,620.3 L3077.5,628.2 L3079.3,636.1 L3081.3,643.9 L3083.5,651.7 L3085.8,659.3 L3088.3,667.0 L3090.9,674.5 L3093.8,681.9 L3096.8,689.3 L3100.1,696.6 L3103.5,703.7 L3107.2,710.8 L3111.1,717.7 L3115.3,724.6 L3119.6,731.3 L3124.3,737.9 L3129.2,744.3 L3134.4,750.6 L3139.8,756.8 L3145.6,762.8 L3145.6,777.6 L3175.2,758.5 L3145.6,717.2 L3145.6,732.0 L3139.5,727.3 L3133.9,722.2 L3128.8,716.8 L3124.2,711.1 L3120.0,705.1 L3116.2,698.9 L3112.6,692.6 L3109.3,686.0 L3106.3,679.3 L3103.3,672.6 L3100.5,665.8 L3097.8,658.9 L3095.2,652.0 L3092.7,645.0 L3090.3,638.0 L3088.0,631.0 L3085.8,623.9 L3083.6,616.8 L3081.6,609.6 L3079.7,602.4 L3077.9,595.2 L3076.1,588.0 L3074.5,580.7 L3072.9,573.5 L3071.5,566.2 L3070.1,558.9 L3068.9,551.6 L3067.7,544.3 L3066.7,536.9 L3065.7,529.6 L3064.8,522.3 L3064.0,514.9 L3063.3,507.5 L3062.7,500.2 L3062.2,492.8 L3061.7,485.4 L3061.4,478.1 L3061.1,470.7 L3060.9,463.3 L3060.7,455.9 L3060.7,448.5 L3060.7,441.2 L3060.8,433.8 L3061.0,426.4 L3061.2,419.0 L3061.5,411.6 L3061.9,404.2 L3062.3,396.9 L3062.8,389.5 L3063.4,382.1 L3064.0,374.7 L3064.7,367.4 L3065.4,360.0 L3066.2,352.7 L3067.1,345.3 L3068.0,338.0 L3069.0,330.6 L3070.1,323.3 L3071.2,316.0 L3072.5,308.7 L3073.8,301.5 L3075.2,294.2 L3076.7,287.0 L3078.3,279.7 L3080.0,272.5 L3081.8,265.4 L3083.7,258.2 L3085.7,251.1 L3087.8,244.0 L3090.0,236.9 L3092.3,229.8 L3094.7,222.8 L3097.3,215.8 L3100.0,208.8 L3102.8,201.9 L3105.7,195.0 L3108.8,188.1 L3112.1,181.4 L3115.6,174.9 L3119.4,168.7 L3123.7,162.8 L3128.3,157.4 L3133.4,152.5 L3139.1,148.2 L3145.3,144.5 L3152.2,141.6 L3159.6,139.6 L3167.2,138.6 L3174.9,138.7 Z" fill="#3c4c69" stroke="#24508e" stroke-width="1.5" stroke-linejoin="round"/>
</svg>
</body></html>
